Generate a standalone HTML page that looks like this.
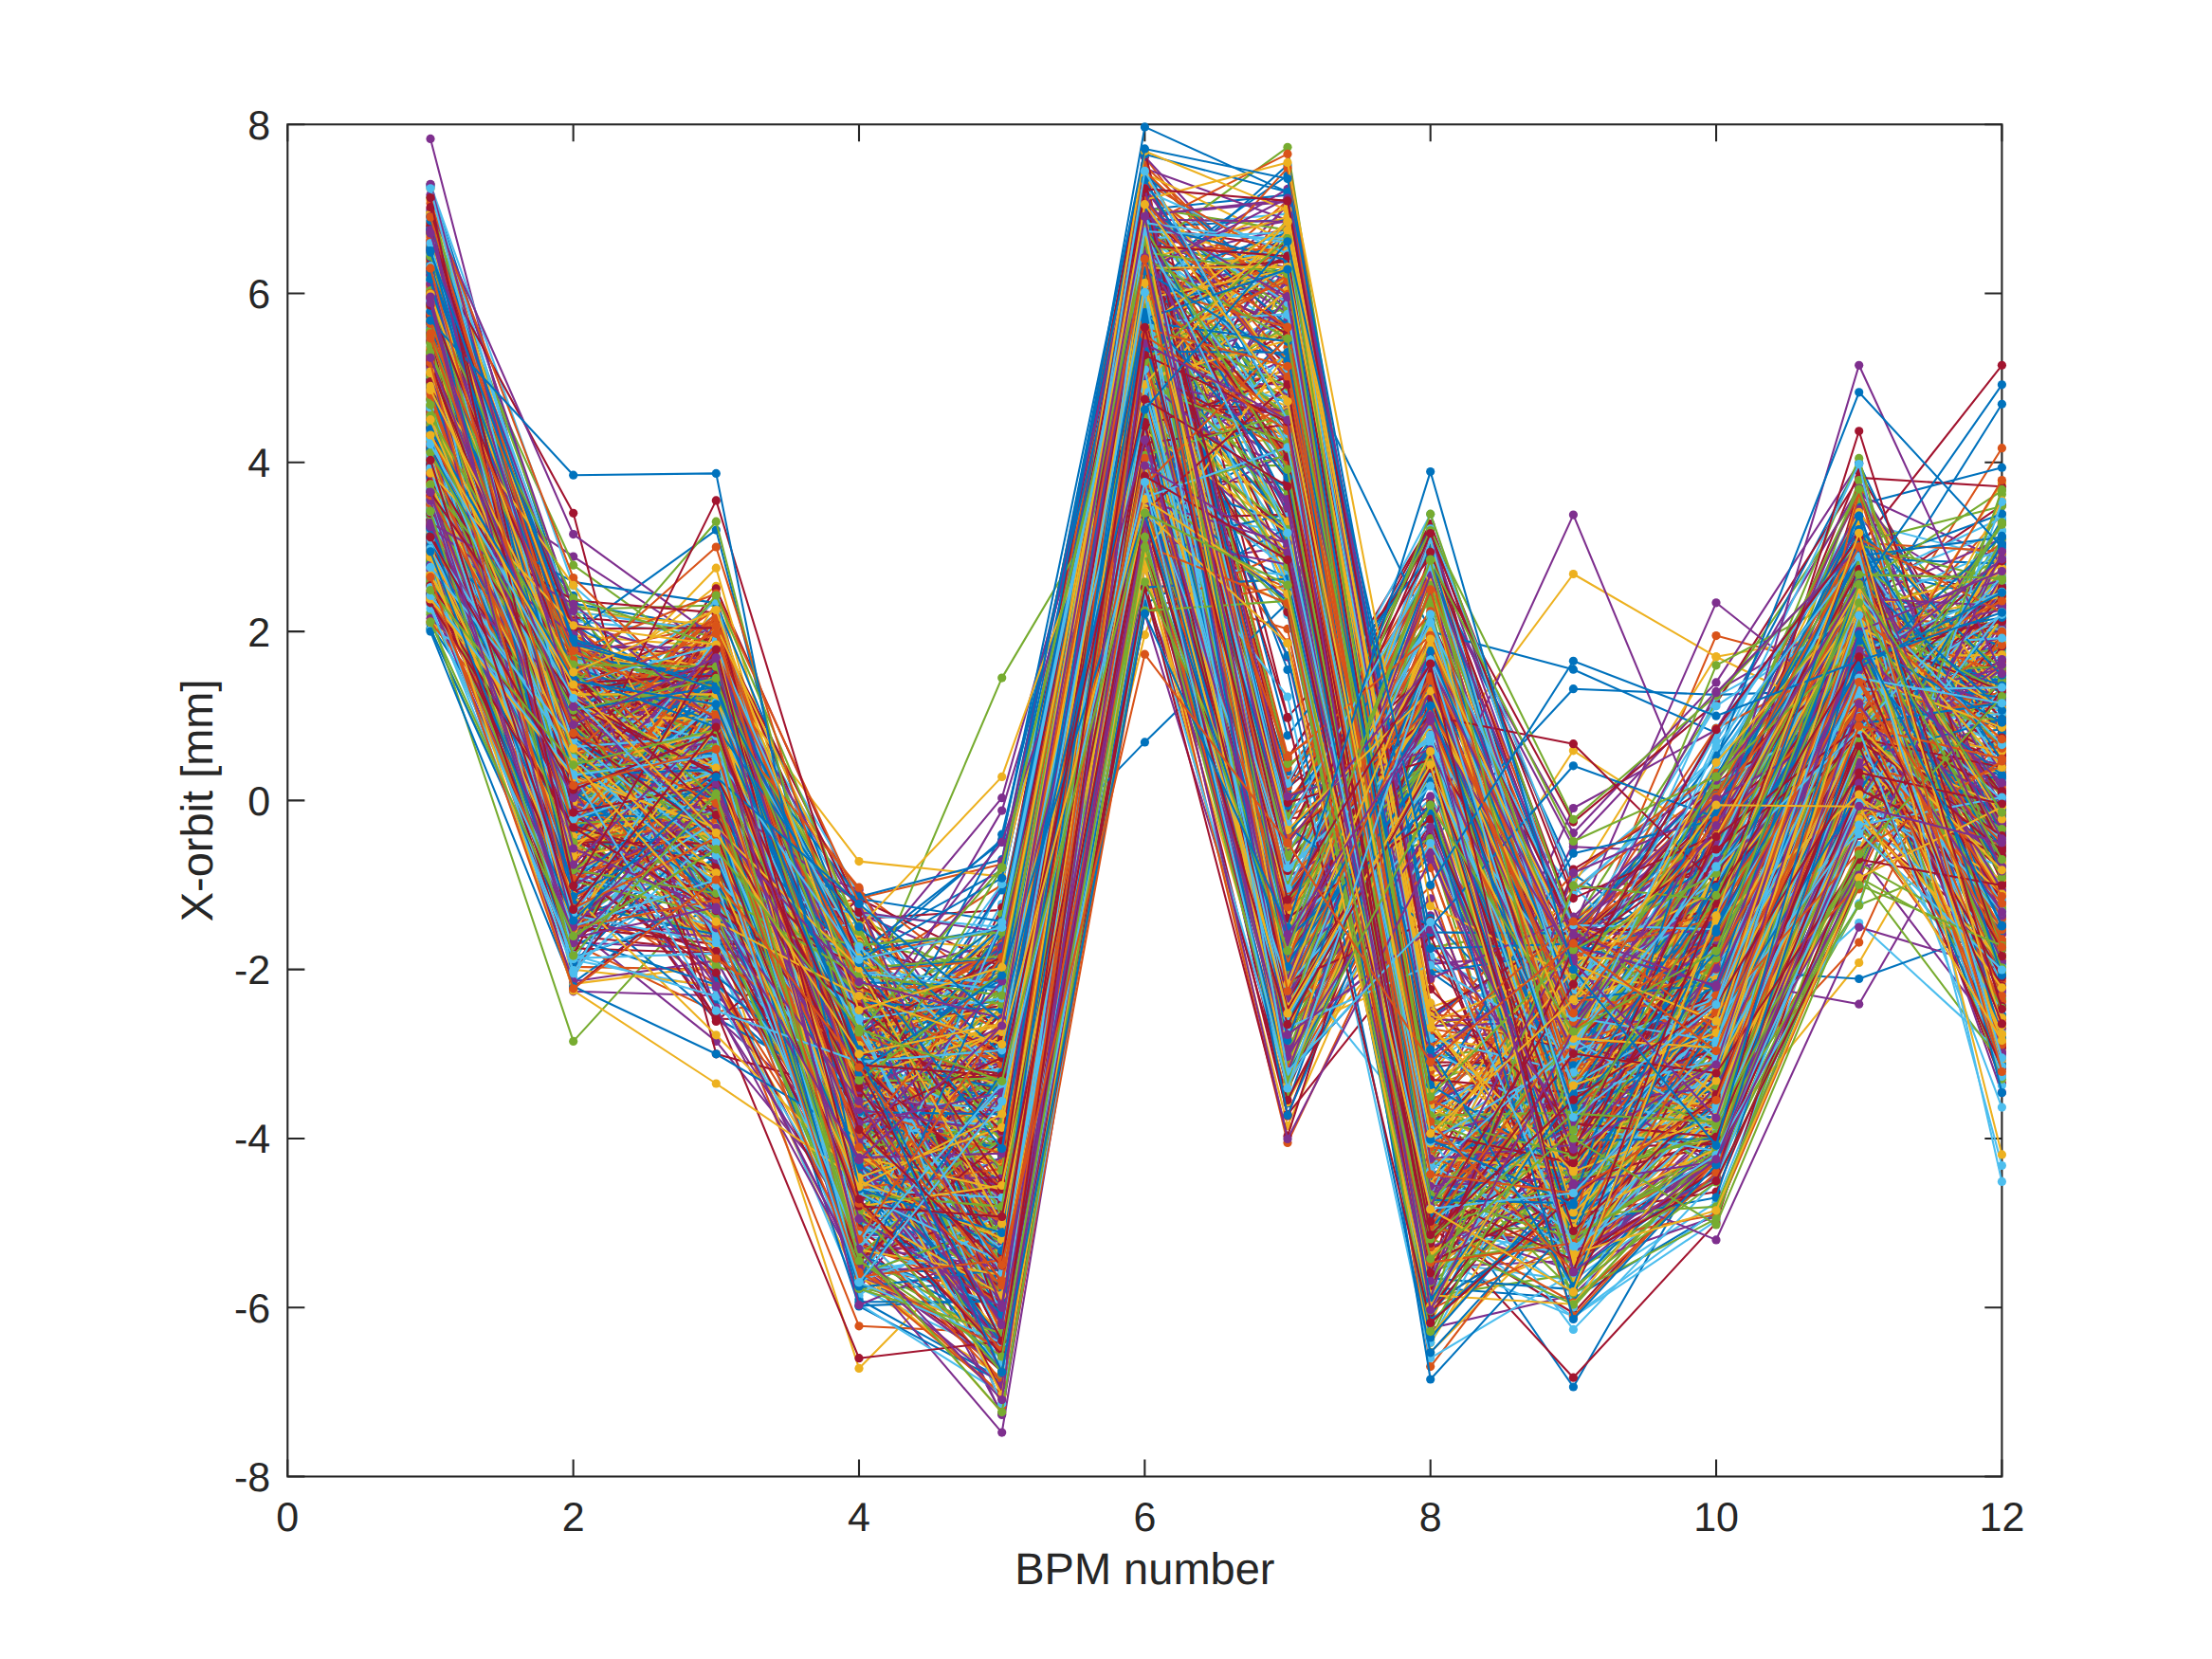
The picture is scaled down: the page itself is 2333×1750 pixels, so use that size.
<!DOCTYPE html><html><head><meta charset="utf-8"><style>html,body{margin:0;padding:0;background:#fff;overflow:hidden}svg{display:block}text{font-family:"Liberation Sans",Arial,Helvetica,sans-serif;fill:#262626;-webkit-font-smoothing:antialiased;text-rendering:geometricPrecision}.c0{stroke:#0072BD;marker-start:url(#m0);marker-mid:url(#m0);marker-end:url(#m0)}.c1{stroke:#D95319;marker-start:url(#m1);marker-mid:url(#m1);marker-end:url(#m1)}.c2{stroke:#EDB120;marker-start:url(#m2);marker-mid:url(#m2);marker-end:url(#m2)}.c3{stroke:#7E2F8E;marker-start:url(#m3);marker-mid:url(#m3);marker-end:url(#m3)}.c4{stroke:#77AC30;marker-start:url(#m4);marker-mid:url(#m4);marker-end:url(#m4)}.c5{stroke:#4DBEEE;marker-start:url(#m5);marker-mid:url(#m5);marker-end:url(#m5)}.c6{stroke:#A2142F;marker-start:url(#m6);marker-mid:url(#m6);marker-end:url(#m6)}polyline{fill:none;stroke-width:2.08;stroke-linejoin:round}</style></head><body><svg width="2333" height="1750" viewBox="0 0 2333 1750"><defs><marker id="m0" markerUnits="userSpaceOnUse" markerWidth="12" markerHeight="12" refX="6" refY="6" overflow="visible"><circle cx="6" cy="6" r="4.60" fill="#0072BD"/></marker><marker id="m1" markerUnits="userSpaceOnUse" markerWidth="12" markerHeight="12" refX="6" refY="6" overflow="visible"><circle cx="6" cy="6" r="4.60" fill="#D95319"/></marker><marker id="m2" markerUnits="userSpaceOnUse" markerWidth="12" markerHeight="12" refX="6" refY="6" overflow="visible"><circle cx="6" cy="6" r="4.60" fill="#EDB120"/></marker><marker id="m3" markerUnits="userSpaceOnUse" markerWidth="12" markerHeight="12" refX="6" refY="6" overflow="visible"><circle cx="6" cy="6" r="4.60" fill="#7E2F8E"/></marker><marker id="m4" markerUnits="userSpaceOnUse" markerWidth="12" markerHeight="12" refX="6" refY="6" overflow="visible"><circle cx="6" cy="6" r="4.60" fill="#77AC30"/></marker><marker id="m5" markerUnits="userSpaceOnUse" markerWidth="12" markerHeight="12" refX="6" refY="6" overflow="visible"><circle cx="6" cy="6" r="4.60" fill="#4DBEEE"/></marker><marker id="m6" markerUnits="userSpaceOnUse" markerWidth="12" markerHeight="12" refX="6" refY="6" overflow="visible"><circle cx="6" cy="6" r="4.60" fill="#A2142F"/></marker></defs><rect width="2333" height="1750" fill="#fff"/><g stroke="#262626" stroke-width="2.08" fill="none"><rect x="303.30" y="131.25" width="1808.10" height="1426.25"/><path d="M303.30 1557.50v-18.08M303.30 131.25v18.08M604.65 1557.50v-18.08M604.65 131.25v18.08M906.00 1557.50v-18.08M906.00 131.25v18.08M1207.35 1557.50v-18.08M1207.35 131.25v18.08M1508.70 1557.50v-18.08M1508.70 131.25v18.08M1810.05 1557.50v-18.08M1810.05 131.25v18.08M2111.40 1557.50v-18.08M2111.40 131.25v18.08M303.30 1557.50h18.08M2111.40 1557.50h-18.08M303.30 1379.22h18.08M2111.40 1379.22h-18.08M303.30 1200.94h18.08M2111.40 1200.94h-18.08M303.30 1022.66h18.08M2111.40 1022.66h-18.08M303.30 844.38h18.08M2111.40 844.38h-18.08M303.30 666.09h18.08M2111.40 666.09h-18.08M303.30 487.81h18.08M2111.40 487.81h-18.08M303.30 309.53h18.08M2111.40 309.53h-18.08M303.30 131.25h18.08M2111.40 131.25h-18.08"/></g><clipPath id="ax"><rect x="297.30" y="125.25" width="1820.10" height="1438.25"/></clipPath><g clip-path="url(#ax)"><polyline class="c0" points="454.0,307.6 604.7,749.3 755.3,954.1 906.0,1066.6 1056.7,1104.2 1207.4,367.0 1358.0,323.8 1508.7,1164.4 1659.4,1093.2 1810.0,994.4 1960.7,666.1 2111.4,426.3"/><polyline class="c1" points="454.0,498.0 604.7,764.6 755.3,793.9 906.0,1199.7 1056.7,1359.3 1207.4,451.6 1358.0,1048.7 1508.7,785.5 1659.4,1052.3 1810.0,850.2 1960.7,866.8 2111.4,1079.2"/><polyline class="c2" points="454.0,489.6 604.7,807.8 755.3,788.4 906.0,957.2 1056.7,1294.5 1207.4,435.7 1358.0,231.9 1508.7,1062.5 1659.4,1010.9 1810.0,1001.7 1960.7,848.2 2111.4,737.1"/><polyline class="c3" points="454.0,585.9 604.7,978.1 755.3,1098.4 906.0,1284.3 1056.7,1288.8 1207.4,375.0 1358.0,1010.7 1508.7,788.4 1659.4,1128.6 1810.0,913.1 1960.7,637.2 2111.4,999.2"/><polyline class="c4" points="454.0,500.7 604.7,735.8 755.3,913.7 906.0,1061.6 1056.7,1176.4 1207.4,492.8 1358.0,1089.8 1508.7,776.8 1659.4,1155.5 1810.0,1145.8 1960.7,863.2 2111.4,725.5"/><polyline class="c5" points="454.0,388.9 604.7,723.5 755.3,983.2 906.0,1149.1 1056.7,1011.9 1207.4,296.7 1358.0,477.3 1508.7,1216.1 1659.4,1115.7 1810.0,902.8 1960.7,690.5 2111.4,1073.4"/><polyline class="c6" points="454.0,492.9 604.7,744.6 755.3,768.5 906.0,1331.7 1056.7,1439.9 1207.4,377.5 1358.0,954.9 1508.7,774.0 1659.4,1184.3 1810.0,1003.6 1960.7,663.2 2111.4,678.4"/><polyline class="c0" points="454.0,440.2 604.7,852.4 755.3,711.7 906.0,1361.4 1056.7,1351.5 1207.4,415.1 1358.0,607.1 1508.7,1320.8 1659.4,1271.9 1810.0,1012.9 1960.7,718.9 2111.4,695.8"/><polyline class="c1" points="454.0,366.9 604.7,904.9 755.3,1017.2 906.0,990.6 1056.7,1152.4 1207.4,411.2 1358.0,396.4 1508.7,1255.2 1659.4,1053.8 1810.0,967.4 1960.7,685.7 2111.4,961.4"/><polyline class="c2" points="454.0,567.8 604.7,776.7 755.3,661.8 906.0,1318.4 1056.7,1490.0 1207.4,505.6 1358.0,855.7 1508.7,754.3 1659.4,1300.5 1810.0,1066.3 1960.7,805.6 2111.4,879.8"/><polyline class="c3" points="454.0,345.9 604.7,846.5 755.3,794.6 906.0,1185.4 1056.7,1363.1 1207.4,463.3 1358.0,1124.4 1508.7,801.4 1659.4,1316.8 1810.0,1226.8 1960.7,698.2 2111.4,827.9"/><polyline class="c4" points="454.0,348.7 604.7,849.1 755.3,855.6 906.0,1116.2 1056.7,1148.9 1207.4,466.6 1358.0,333.8 1508.7,1252.3 1659.4,1296.0 1810.0,1208.8 1960.7,844.0 2111.4,559.6"/><polyline class="c5" points="454.0,400.5 604.7,1019.8 755.3,902.2 906.0,1062.8 1056.7,1214.7 1207.4,431.1 1358.0,1018.8 1508.7,678.3 1659.4,1040.5 1810.0,768.0 1960.7,571.3 2111.4,982.7"/><polyline class="c6" points="454.0,436.7 604.7,807.1 755.3,817.6 906.0,1143.2 1056.7,1435.4 1207.4,378.3 1358.0,1064.7 1508.7,890.0 1659.4,1193.7 1810.0,902.2 1960.7,615.2 2111.4,814.8"/><polyline class="c0" points="454.0,196.4 604.7,657.3 755.3,875.9 906.0,1265.4 1056.7,1248.9 1207.4,549.2 1358.0,467.8 1508.7,1306.6 1659.4,1025.8 1810.0,841.4 1960.7,863.4 2111.4,751.9"/><polyline class="c1" points="454.0,275.5 604.7,757.0 755.3,735.9 906.0,1285.3 1056.7,985.2 1207.4,165.5 1358.0,366.2 1508.7,1188.8 1659.4,1022.7 1810.0,670.6 1960.7,710.7 2111.4,542.6"/><polyline class="c2" points="454.0,471.1 604.7,769.0 755.3,875.7 906.0,1201.3 1056.7,1327.0 1207.4,422.8 1358.0,586.8 1508.7,1361.1 1659.4,1231.3 1810.0,1120.9 1960.7,754.7 2111.4,856.2"/><polyline class="c3" points="454.0,475.1 604.7,846.5 755.3,902.9 906.0,1237.1 1056.7,1423.9 1207.4,404.5 1358.0,1117.8 1508.7,881.0 1659.4,1216.1 1810.0,1030.8 1960.7,751.3 2111.4,1115.4"/><polyline class="c4" points="454.0,385.3 604.7,970.4 755.3,782.6 906.0,1245.0 1056.7,1414.3 1207.4,445.4 1358.0,1061.0 1508.7,746.8 1659.4,1323.4 1810.0,945.6 1960.7,730.1 2111.4,1072.1"/><polyline class="c5" points="454.0,479.8 604.7,791.8 755.3,848.9 906.0,1176.0 1056.7,1180.4 1207.4,430.4 1358.0,337.3 1508.7,1244.7 1659.4,1271.3 1810.0,1102.3 1960.7,709.7 2111.4,859.8"/><polyline class="c6" points="454.0,334.3 604.7,987.2 755.3,1003.1 906.0,1179.3 1056.7,1419.4 1207.4,458.4 1358.0,1056.3 1508.7,678.4 1659.4,1212.5 1810.0,1140.2 1960.7,739.9 2111.4,1142.6"/><polyline class="c0" points="454.0,526.9 604.7,930.9 755.3,757.4 906.0,1164.1 1056.7,1446.0 1207.4,416.3 1358.0,311.6 1508.7,1245.5 1659.4,1463.0 1810.0,1200.9 1960.7,782.2 2111.4,712.6"/><polyline class="c1" points="454.0,523.5 604.7,989.6 755.3,910.9 906.0,1280.2 1056.7,1103.3 1207.4,287.1 1358.0,275.3 1508.7,1146.5 1659.4,1091.6 1810.0,1088.3 1960.7,682.8 2111.4,572.7"/><polyline class="c2" points="454.0,513.0 604.7,858.9 755.3,886.4 906.0,1256.5 1056.7,1236.2 1207.4,399.6 1358.0,255.9 1508.7,1136.7 1659.4,1081.8 1810.0,872.1 1960.7,673.7 2111.4,601.7"/><polyline class="c3" points="454.0,541.5 604.7,889.2 755.3,857.3 906.0,1322.6 1056.7,1301.1 1207.4,568.2 1358.0,321.2 1508.7,1199.5 1659.4,1227.7 1810.0,1179.2 1960.7,824.1 2111.4,815.6"/><polyline class="c4" points="454.0,555.2 604.7,873.9 755.3,895.0 906.0,1056.7 1056.7,995.3 1207.4,257.3 1358.0,912.5 1508.7,819.7 1659.4,1147.1 1810.0,1038.2 1960.7,675.6 2111.4,587.5"/><polyline class="c5" points="454.0,385.0 604.7,939.1 755.3,790.3 906.0,1312.6 1056.7,1363.8 1207.4,400.7 1358.0,332.8 1508.7,1193.7 1659.4,1243.2 1810.0,1153.2 1960.7,696.2 2111.4,818.7"/><polyline class="c6" points="454.0,304.8 604.7,739.9 755.3,696.4 906.0,1194.5 1056.7,1093.2 1207.4,427.8 1358.0,986.5 1508.7,775.7 1659.4,1109.8 1810.0,884.8 1960.7,718.0 2111.4,820.0"/><polyline class="c0" points="454.0,268.1 604.7,699.7 755.3,916.6 906.0,1118.1 1056.7,1072.8 1207.4,173.7 1358.0,471.3 1508.7,1315.0 1659.4,1016.4 1810.0,1102.7 1960.7,853.7 2111.4,678.8"/><polyline class="c1" points="454.0,522.7 604.7,778.0 755.3,789.7 906.0,993.2 1056.7,1136.9 1207.4,230.7 1358.0,1013.4 1508.7,759.7 1659.4,1184.1 1810.0,919.8 1960.7,614.2 2111.4,994.1"/><polyline class="c2" points="454.0,314.2 604.7,801.7 755.3,842.8 906.0,1192.3 1056.7,1444.8 1207.4,468.6 1358.0,1035.4 1508.7,841.9 1659.4,1147.5 1810.0,1181.4 1960.7,839.7 2111.4,861.5"/><polyline class="c3" points="454.0,146.4 604.7,725.8 755.3,710.7 906.0,1107.7 1056.7,1004.3 1207.4,376.0 1358.0,693.1 1508.7,1336.7 1659.4,1329.7 1810.0,1186.9 1960.7,878.4 2111.4,599.0"/><polyline class="c4" points="454.0,529.8 604.7,740.4 755.3,775.0 906.0,1178.7 1056.7,1214.4 1207.4,378.5 1358.0,324.2 1508.7,1168.8 1659.4,1179.9 1810.0,936.4 1960.7,727.1 2111.4,755.1"/><polyline class="c5" points="454.0,247.0 604.7,822.6 755.3,658.3 906.0,1122.9 1056.7,1234.3 1207.4,443.7 1358.0,993.0 1508.7,726.7 1659.4,1267.9 1810.0,1212.5 1960.7,857.9 2111.4,893.0"/><polyline class="c6" points="454.0,253.6 604.7,683.3 755.3,725.7 906.0,1209.1 1056.7,1228.5 1207.4,261.5 1358.0,799.7 1508.7,569.6 1659.4,1036.3 1810.0,956.7 1960.7,725.0 2111.4,960.6"/><polyline class="c0" points="454.0,395.0 604.7,650.1 755.3,736.4 906.0,1000.7 1056.7,918.2 1207.4,221.2 1358.0,205.6 1508.7,1024.9 1659.4,1132.0 1810.0,991.9 1960.7,696.1 2111.4,865.5"/><polyline class="c1" points="454.0,402.9 604.7,761.0 755.3,897.3 906.0,1175.0 1056.7,1430.9 1207.4,441.8 1358.0,988.6 1508.7,713.3 1659.4,1106.7 1810.0,940.2 1960.7,733.3 2111.4,853.2"/><polyline class="c2" points="454.0,286.4 604.7,737.1 755.3,618.3 906.0,1143.4 1056.7,1041.0 1207.4,203.7 1358.0,308.6 1508.7,1255.0 1659.4,1309.4 1810.0,1118.1 1960.7,660.7 2111.4,779.7"/><polyline class="c3" points="454.0,483.4 604.7,765.2 755.3,1037.9 906.0,1159.4 1056.7,1211.3 1207.4,521.2 1358.0,238.3 1508.7,1234.6 1659.4,1293.0 1810.0,1223.9 1960.7,726.0 2111.4,981.5"/><polyline class="c4" points="454.0,338.5 604.7,764.9 755.3,961.1 906.0,1251.4 1056.7,991.7 1207.4,403.1 1358.0,1095.4 1508.7,798.8 1659.4,1113.5 1810.0,981.7 1960.7,628.1 2111.4,1040.1"/><polyline class="c5" points="454.0,341.0 604.7,977.1 755.3,703.7 906.0,949.6 1056.7,1222.4 1207.4,349.0 1358.0,248.2 1508.7,1256.2 1659.4,1365.3 1810.0,1268.2 1960.7,896.5 2111.4,853.4"/><polyline class="c6" points="454.0,383.9 604.7,954.8 755.3,799.3 906.0,969.3 1056.7,959.9 1207.4,193.8 1358.0,885.0 1508.7,598.8 1659.4,1147.7 1810.0,947.1 1960.7,684.6 2111.4,633.7"/><polyline class="c0" points="454.0,573.4 604.7,843.7 755.3,694.3 906.0,1288.0 1056.7,1360.9 1207.4,518.8 1358.0,1163.9 1508.7,748.4 1659.4,1023.5 1810.0,854.1 1960.7,614.8 2111.4,859.0"/><polyline class="c1" points="454.0,531.4 604.7,741.7 755.3,683.2 906.0,1034.7 1056.7,1254.1 1207.4,360.4 1358.0,418.0 1508.7,1094.0 1659.4,1085.6 1810.0,1195.2 1960.7,763.6 2111.4,551.5"/><polyline class="c2" points="454.0,300.4 604.7,780.0 755.3,1026.1 906.0,1354.8 1056.7,1452.8 1207.4,516.6 1358.0,1049.5 1508.7,693.6 1659.4,1161.4 1810.0,928.9 1960.7,694.4 2111.4,955.8"/><polyline class="c3" points="454.0,554.6 604.7,1045.8 755.3,1050.2 906.0,1178.9 1056.7,1492.4 1207.4,599.2 1358.0,576.7 1508.7,1401.2 1659.4,1366.1 1810.0,1222.4 1960.7,864.1 2111.4,586.1"/><polyline class="c4" points="454.0,609.5 604.7,972.1 755.3,791.0 906.0,967.6 1056.7,1051.7 1207.4,255.2 1358.0,811.4 1508.7,633.6 1659.4,1110.6 1810.0,1166.3 1960.7,828.4 2111.4,532.2"/><polyline class="c5" points="454.0,423.7 604.7,976.3 755.3,861.4 906.0,1059.6 1056.7,1214.7 1207.4,271.0 1358.0,274.9 1508.7,1115.7 1659.4,928.2 1810.0,798.3 1960.7,628.2 2111.4,976.1"/><polyline class="c6" points="454.0,353.7 604.7,838.8 755.3,620.9 906.0,959.0 1056.7,1143.3 1207.4,360.9 1358.0,863.3 1508.7,853.4 1659.4,1283.2 1810.0,1010.1 1960.7,785.2 2111.4,880.8"/><polyline class="c0" points="454.0,329.1 604.7,776.2 755.3,757.1 906.0,1088.5 1056.7,1178.2 1207.4,232.8 1358.0,420.1 1508.7,1358.1 1659.4,1369.7 1810.0,1279.6 1960.7,912.9 2111.4,594.8"/><polyline class="c1" points="454.0,513.8 604.7,964.0 755.3,938.4 906.0,1226.0 1056.7,1336.8 1207.4,563.6 1358.0,1132.3 1508.7,712.8 1659.4,1341.7 1810.0,1191.7 1960.7,937.8 2111.4,695.3"/><polyline class="c2" points="454.0,633.7 604.7,882.4 755.3,663.0 906.0,1132.4 1056.7,1014.5 1207.4,274.5 1358.0,625.0 1508.7,1324.6 1659.4,1241.8 1810.0,1222.8 1960.7,753.8 2111.4,746.7"/><polyline class="c3" points="454.0,301.8 604.7,887.0 755.3,767.4 906.0,1274.4 1056.7,1174.7 1207.4,472.0 1358.0,927.3 1508.7,674.9 1659.4,977.8 1810.0,1003.5 1960.7,746.4 2111.4,659.3"/><polyline class="c4" points="454.0,571.1 604.7,738.3 755.3,738.0 906.0,1035.5 1056.7,1215.7 1207.4,288.3 1358.0,1038.1 1508.7,893.9 1659.4,1374.3 1810.0,1237.4 1960.7,871.4 2111.4,876.0"/><polyline class="c5" points="454.0,630.8 604.7,954.7 755.3,832.8 906.0,1236.4 1056.7,1385.2 1207.4,630.9 1358.0,990.5 1508.7,842.6 1659.4,1046.8 1810.0,804.0 1960.7,583.1 2111.4,972.3"/><polyline class="c6" points="454.0,579.4 604.7,830.1 755.3,821.6 906.0,1100.9 1056.7,1031.7 1207.4,180.0 1358.0,903.1 1508.7,600.8 1659.4,1130.7 1810.0,1121.8 1960.7,815.3 2111.4,967.6"/><polyline class="c0" points="454.0,295.2 604.7,668.5 755.3,756.4 906.0,1124.7 1056.7,1300.1 1207.4,531.6 1358.0,414.6 1508.7,1225.2 1659.4,1293.7 1810.0,1061.6 1960.7,871.5 2111.4,786.4"/><polyline class="c1" points="454.0,504.5 604.7,963.3 755.3,759.0 906.0,1091.7 1056.7,999.1 1207.4,250.3 1358.0,1063.4 1508.7,801.6 1659.4,1321.6 1810.0,1099.8 1960.7,710.7 2111.4,472.7"/><polyline class="c2" points="454.0,484.0 604.7,809.1 755.3,990.9 906.0,1165.4 1056.7,1186.6 1207.4,411.0 1358.0,1066.4 1508.7,754.6 1659.4,1258.7 1810.0,1188.8 1960.7,727.5 2111.4,769.6"/><polyline class="c3" points="454.0,565.0 604.7,1021.2 755.3,798.1 906.0,1047.0 1056.7,1298.2 1207.4,557.6 1358.0,1104.5 1508.7,965.8 1659.4,1335.6 1810.0,1283.3 1960.7,900.6 2111.4,1097.7"/><polyline class="c4" points="454.0,246.6 604.7,797.4 755.3,728.7 906.0,1237.6 1056.7,1391.7 1207.4,593.6 1358.0,1040.5 1508.7,764.8 1659.4,1009.1 1810.0,1083.1 1960.7,763.3 2111.4,787.6"/><polyline class="c5" points="454.0,228.7 604.7,834.2 755.3,970.4 906.0,1350.7 1056.7,1104.7 1207.4,318.8 1358.0,473.2 1508.7,1284.0 1659.4,1389.2 1810.0,1287.6 1960.7,840.7 2111.4,711.2"/><polyline class="c6" points="454.0,569.8 604.7,792.9 755.3,654.1 906.0,1296.7 1056.7,1285.2 1207.4,443.9 1358.0,389.7 1508.7,1239.8 1659.4,1184.6 1810.0,1157.8 1960.7,781.7 2111.4,918.5"/><polyline class="c0" points="454.0,443.8 604.7,752.0 755.3,868.5 906.0,1217.1 1056.7,1068.6 1207.4,320.6 1358.0,1017.3 1508.7,668.6 1659.4,1080.3 1810.0,984.2 1960.7,680.2 2111.4,1056.2"/><polyline class="c1" points="454.0,261.1 604.7,713.7 755.3,975.4 906.0,1150.6 1056.7,1366.2 1207.4,458.5 1358.0,1044.8 1508.7,886.0 1659.4,1116.6 1810.0,1027.9 1960.7,650.6 2111.4,727.9"/><polyline class="c2" points="454.0,271.5 604.7,953.7 755.3,978.1 906.0,1443.4 1056.7,1290.1 1207.4,361.9 1358.0,291.0 1508.7,1071.3 1659.4,1151.3 1810.0,1001.7 1960.7,696.8 2111.4,618.3"/><polyline class="c3" points="454.0,485.1 604.7,587.1 755.3,685.0 906.0,1200.6 1056.7,1136.9 1207.4,247.8 1358.0,282.2 1508.7,1222.8 1659.4,983.6 1810.0,906.9 1960.7,548.4 2111.4,640.9"/><polyline class="c4" points="454.0,564.6 604.7,971.1 755.3,847.4 906.0,1164.2 1056.7,1175.0 1207.4,437.9 1358.0,1006.3 1508.7,612.5 1659.4,1207.4 1810.0,1094.7 1960.7,725.3 2111.4,837.2"/><polyline class="c5" points="454.0,230.3 604.7,654.9 755.3,670.3 906.0,1241.4 1056.7,932.7 1207.4,214.5 1358.0,967.2 1508.7,752.9 1659.4,1222.8 1810.0,837.4 1960.7,608.7 2111.4,840.5"/><polyline class="c6" points="454.0,320.5 604.7,917.3 755.3,991.7 906.0,1108.3 1056.7,1338.6 1207.4,311.6 1358.0,257.8 1508.7,1290.1 1659.4,1453.2 1810.0,1290.1 1960.7,823.4 2111.4,630.9"/><polyline class="c0" points="454.0,227.9 604.7,788.8 755.3,956.6 906.0,1196.1 1056.7,1103.8 1207.4,473.6 1358.0,1058.3 1508.7,903.0 1659.4,1144.8 1810.0,1015.7 1960.7,748.7 2111.4,633.3"/><polyline class="c1" points="454.0,488.1 604.7,662.6 755.3,763.9 906.0,1004.0 1056.7,1117.3 1207.4,397.7 1358.0,450.7 1508.7,1260.8 1659.4,1221.4 1810.0,1169.6 1960.7,852.6 2111.4,1042.8"/><polyline class="c2" points="454.0,368.5 604.7,722.4 755.3,998.5 906.0,1088.9 1056.7,1190.4 1207.4,521.8 1358.0,1070.7 1508.7,695.3 1659.4,1072.6 1810.0,894.9 1960.7,579.8 2111.4,704.7"/><polyline class="c3" points="454.0,634.2 604.7,979.1 755.3,839.1 906.0,1227.3 1056.7,1132.9 1207.4,243.2 1358.0,329.7 1508.7,1058.9 1659.4,1219.5 1810.0,972.0 1960.7,733.5 2111.4,961.2"/><polyline class="c4" points="454.0,662.8 604.7,988.6 755.3,785.2 906.0,1301.6 1056.7,1279.0 1207.4,490.8 1358.0,491.1 1508.7,1314.0 1659.4,1321.6 1810.0,1079.6 1960.7,849.1 2111.4,957.6"/><polyline class="c5" points="454.0,291.6 604.7,711.8 755.3,743.2 906.0,951.7 1056.7,1303.8 1207.4,490.1 1358.0,593.1 1508.7,1268.7 1659.4,1131.9 1810.0,888.7 1960.7,576.1 2111.4,912.5"/><polyline class="c6" points="454.0,565.1 604.7,651.2 755.3,663.0 906.0,1077.1 1056.7,1240.9 1207.4,391.9 1358.0,461.0 1508.7,1295.5 1659.4,1385.0 1810.0,1222.1 1960.7,854.7 2111.4,717.0"/><polyline class="c0" points="454.0,305.4 604.7,789.0 755.3,720.7 906.0,1370.5 1056.7,1454.8 1207.4,294.2 1358.0,538.9 1508.7,1328.2 1659.4,1100.0 1810.0,1105.3 1960.7,687.8 2111.4,1070.2"/><polyline class="c1" points="454.0,595.0 604.7,1019.9 755.3,1022.7 906.0,1398.8 1056.7,1406.0 1207.4,470.6 1358.0,209.9 1508.7,1084.9 1659.4,1111.6 1810.0,959.2 1960.7,705.8 2111.4,939.4"/><polyline class="c2" points="454.0,617.8 604.7,774.3 755.3,730.3 906.0,1040.7 1056.7,1264.9 1207.4,473.8 1358.0,239.2 1508.7,1135.7 1659.4,933.5 1810.0,692.8 1960.7,666.1 2111.4,1089.8"/><polyline class="c3" points="454.0,492.9 604.7,871.3 755.3,1073.3 906.0,1209.1 1056.7,1491.5 1207.4,545.0 1358.0,1047.5 1508.7,701.9 1659.4,1261.6 1810.0,996.2 1960.7,776.9 2111.4,1025.0"/><polyline class="c4" points="454.0,547.7 604.7,830.6 755.3,730.6 906.0,1357.0 1056.7,1399.5 1207.4,336.5 1358.0,357.2 1508.7,1172.9 1659.4,1318.9 1810.0,1041.7 1960.7,856.1 2111.4,730.2"/><polyline class="c5" points="454.0,222.7 604.7,698.2 755.3,683.8 906.0,1224.9 1056.7,1324.1 1207.4,268.4 1358.0,348.9 1508.7,1222.2 1659.4,1321.6 1810.0,1128.7 1960.7,706.3 2111.4,969.9"/><polyline class="c6" points="454.0,241.3 604.7,740.5 755.3,823.4 906.0,1299.9 1056.7,1374.4 1207.4,460.6 1358.0,934.6 1508.7,759.7 1659.4,990.7 1810.0,1033.1 1960.7,748.6 2111.4,658.0"/><polyline class="c0" points="454.0,544.3 604.7,864.5 755.3,781.1 906.0,1337.3 1056.7,1345.6 1207.4,429.0 1358.0,1071.3 1508.7,701.0 1659.4,1192.9 1810.0,1102.0 1960.7,746.4 2111.4,677.2"/><polyline class="c1" points="454.0,244.8 604.7,868.8 755.3,695.0 906.0,1255.6 1056.7,1287.3 1207.4,340.6 1358.0,211.7 1508.7,1019.8 1659.4,1128.2 1810.0,863.4 1960.7,662.5 2111.4,985.7"/><polyline class="c2" points="454.0,410.7 604.7,708.7 755.3,841.4 906.0,1120.1 1056.7,1094.7 1207.4,270.7 1358.0,353.8 1508.7,1272.3 1659.4,1053.4 1810.0,956.0 1960.7,639.4 2111.4,909.5"/><polyline class="c3" points="454.0,568.1 604.7,846.8 755.3,741.3 906.0,1145.4 1056.7,1064.8 1207.4,258.8 1358.0,233.1 1508.7,1117.7 1659.4,1318.8 1810.0,1098.7 1960.7,762.3 2111.4,985.2"/><polyline class="c4" points="454.0,384.5 604.7,755.7 755.3,834.9 906.0,1142.0 1056.7,1164.6 1207.4,202.5 1358.0,956.3 1508.7,713.6 1659.4,1098.6 1810.0,1188.7 1960.7,913.5 2111.4,521.6"/><polyline class="c5" points="454.0,340.2 604.7,894.0 755.3,941.8 906.0,1358.5 1056.7,1431.2 1207.4,378.8 1358.0,1124.7 1508.7,747.3 1659.4,1128.4 1810.0,804.4 1960.7,649.5 2111.4,625.9"/><polyline class="c6" points="454.0,469.7 604.7,998.4 755.3,718.8 906.0,1311.8 1056.7,1360.2 1207.4,314.9 1358.0,886.5 1508.7,760.3 1659.4,1177.2 1810.0,1081.8 1960.7,635.4 2111.4,533.2"/><polyline class="c0" points="454.0,296.0 604.7,1036.7 755.3,927.4 906.0,1304.6 1056.7,976.7 1207.4,237.4 1358.0,1004.4 1508.7,784.9 1659.4,1252.3 1810.0,1079.9 1960.7,752.7 2111.4,687.9"/><polyline class="c1" points="454.0,323.6 604.7,937.7 755.3,1038.3 906.0,1279.2 1056.7,1092.6 1207.4,337.3 1358.0,478.1 1508.7,1268.2 1659.4,1331.0 1810.0,1240.9 1960.7,789.1 2111.4,844.0"/><polyline class="c2" points="454.0,376.5 604.7,874.8 755.3,920.8 906.0,1231.0 1056.7,1144.4 1207.4,315.1 1358.0,1088.6 1508.7,1022.7 1659.4,791.8 1810.0,888.9 1960.7,716.3 2111.4,749.5"/><polyline class="c3" points="454.0,307.1 604.7,737.2 755.3,658.4 906.0,1084.4 1056.7,1276.3 1207.4,445.7 1358.0,378.2 1508.7,1194.0 1659.4,889.5 1810.0,729.4 1960.7,641.1 2111.4,772.3"/><polyline class="c4" points="454.0,613.3 604.7,790.6 755.3,746.1 906.0,1283.4 1056.7,1003.3 1207.4,372.0 1358.0,567.3 1508.7,1270.2 1659.4,1139.2 1810.0,1048.4 1960.7,729.5 2111.4,765.3"/><polyline class="c5" points="454.0,452.3 604.7,1012.5 755.3,1042.9 906.0,1113.4 1056.7,1315.1 1207.4,332.2 1358.0,254.4 1508.7,1167.7 1659.4,1095.7 1810.0,781.9 1960.7,550.5 2111.4,589.6"/><polyline class="c6" points="454.0,316.5 604.7,802.4 755.3,910.9 906.0,1304.0 1056.7,1198.5 1207.4,292.0 1358.0,990.0 1508.7,650.8 1659.4,1156.9 1810.0,903.6 1960.7,658.7 2111.4,840.3"/><polyline class="c0" points="454.0,440.8 604.7,628.4 755.3,900.5 906.0,1151.6 1056.7,1010.2 1207.4,218.8 1358.0,948.2 1508.7,575.7 1659.4,1127.3 1810.0,1164.8 1960.7,730.8 2111.4,1063.7"/><polyline class="c1" points="454.0,300.0 604.7,703.6 755.3,697.6 906.0,1213.0 1056.7,1207.7 1207.4,469.7 1358.0,901.4 1508.7,616.2 1659.4,993.7 1810.0,1147.0 1960.7,700.2 2111.4,592.3"/><polyline class="c2" points="454.0,311.8 604.7,787.7 755.3,847.8 906.0,1095.5 1056.7,1123.9 1207.4,286.7 1358.0,999.3 1508.7,593.7 1659.4,1162.9 1810.0,1047.0 1960.7,773.3 2111.4,625.4"/><polyline class="c3" points="454.0,263.5 604.7,694.6 755.3,940.8 906.0,963.8 1056.7,1028.5 1207.4,285.0 1358.0,968.9 1508.7,752.5 1659.4,1119.9 1810.0,979.0 1960.7,724.8 2111.4,1152.6"/><polyline class="c4" points="454.0,353.5 604.7,740.4 755.3,807.1 906.0,1108.5 1056.7,1023.7 1207.4,322.7 1358.0,239.8 1508.7,1281.9 1659.4,1322.8 1810.0,1220.7 1960.7,954.7 2111.4,893.0"/><polyline class="c5" points="454.0,263.7 604.7,760.1 755.3,647.8 906.0,1113.5 1056.7,1282.2 1207.4,352.8 1358.0,1016.7 1508.7,674.4 1659.4,1271.3 1810.0,995.9 1960.7,741.6 2111.4,658.2"/><polyline class="c6" points="454.0,489.1 604.7,824.2 755.3,719.1 906.0,1299.2 1056.7,1006.1 1207.4,229.9 1358.0,386.7 1508.7,1126.1 1659.4,1105.8 1810.0,865.2 1960.7,497.5 2111.4,764.1"/><polyline class="c0" points="454.0,490.1 604.7,764.5 755.3,765.5 906.0,1260.8 1056.7,1366.1 1207.4,343.3 1358.0,814.0 1508.7,892.2 1659.4,1186.1 1810.0,1081.9 1960.7,532.4 2111.4,493.2"/><polyline class="c1" points="454.0,565.9 604.7,995.5 755.3,1067.4 906.0,1042.3 1056.7,1201.2 1207.4,414.9 1358.0,1055.5 1508.7,898.5 1659.4,1235.8 1810.0,937.3 1960.7,577.7 2111.4,1103.9"/><polyline class="c2" points="454.0,535.8 604.7,1022.7 755.3,1039.6 906.0,1301.1 1056.7,1282.4 1207.4,512.6 1358.0,1162.8 1508.7,875.5 1659.4,1041.7 1810.0,1047.9 1960.7,681.6 2111.4,806.8"/><polyline class="c3" points="454.0,626.8 604.7,759.0 755.3,955.5 906.0,1248.1 1056.7,1273.4 1207.4,165.1 1358.0,328.9 1508.7,1348.3 1659.4,1031.6 1810.0,1056.9 1960.7,749.3 2111.4,803.3"/><polyline class="c4" points="454.0,451.9 604.7,791.6 755.3,763.7 906.0,1053.6 1056.7,1244.5 1207.4,457.2 1358.0,588.6 1508.7,1287.4 1659.4,1182.3 1810.0,989.4 1960.7,652.3 2111.4,584.8"/><polyline class="c5" points="454.0,316.6 604.7,933.0 755.3,990.0 906.0,1220.3 1056.7,1416.0 1207.4,375.3 1358.0,587.0 1508.7,1326.3 1659.4,1388.6 1810.0,1277.0 1960.7,891.6 2111.4,791.5"/><polyline class="c6" points="454.0,408.4 604.7,706.3 755.3,706.3 906.0,1233.5 1056.7,1343.7 1207.4,549.5 1358.0,1041.8 1508.7,621.7 1659.4,1124.1 1810.0,1197.7 1960.7,781.3 2111.4,669.4"/><polyline class="c0" points="454.0,403.8 604.7,636.4 755.3,663.6 906.0,1081.4 1056.7,1115.2 1207.4,222.1 1358.0,439.3 1508.7,888.9 1659.4,726.7 1810.0,732.9 1960.7,727.5 2111.4,1109.9"/><polyline class="c1" points="454.0,304.4 604.7,780.3 755.3,785.0 906.0,987.3 1056.7,1314.3 1207.4,513.3 1358.0,1142.0 1508.7,872.6 1659.4,1334.2 1810.0,1156.7 1960.7,835.5 2111.4,1040.4"/><polyline class="c2" points="454.0,266.2 604.7,780.1 755.3,831.5 906.0,1163.3 1056.7,1232.4 1207.4,274.7 1358.0,916.0 1508.7,749.7 1659.4,1253.1 1810.0,1205.0 1960.7,897.0 2111.4,567.8"/><polyline class="c3" points="454.0,631.5 604.7,981.6 755.3,979.6 906.0,1139.2 1056.7,1352.5 1207.4,351.9 1358.0,969.0 1508.7,607.7 1659.4,878.7 1810.0,719.9 1960.7,488.5 2111.4,1104.4"/><polyline class="c4" points="454.0,387.1 604.7,638.5 755.3,672.6 906.0,1007.3 1056.7,1175.9 1207.4,271.1 1358.0,898.6 1508.7,728.5 1659.4,1067.8 1810.0,851.4 1960.7,652.5 2111.4,659.0"/><polyline class="c5" points="454.0,415.0 604.7,815.0 755.3,853.4 906.0,1242.4 1056.7,1227.0 1207.4,410.5 1358.0,463.2 1508.7,1330.4 1659.4,1350.4 1810.0,1242.0 1960.7,808.8 2111.4,1007.2"/><polyline class="c6" points="454.0,238.3 604.7,664.9 755.3,830.5 906.0,1093.9 1056.7,1298.1 1207.4,228.2 1358.0,393.4 1508.7,1231.0 1659.4,989.3 1810.0,1018.9 1960.7,594.8 2111.4,1012.0"/><polyline class="c0" points="454.0,471.0 604.7,839.7 755.3,806.2 906.0,1173.6 1056.7,1382.2 1207.4,328.7 1358.0,932.2 1508.7,594.8 1659.4,922.2 1810.0,1022.6 1960.7,597.6 2111.4,632.8"/><polyline class="c1" points="454.0,282.7 604.7,656.5 755.3,805.6 906.0,1318.4 1056.7,1347.4 1207.4,185.0 1358.0,862.2 1508.7,779.8 1659.4,1215.9 1810.0,1180.6 1960.7,826.3 2111.4,757.0"/><polyline class="c2" points="454.0,370.2 604.7,670.1 755.3,776.7 906.0,1209.0 1056.7,1052.0 1207.4,434.9 1358.0,1132.1 1508.7,949.4 1659.4,1315.8 1810.0,1100.0 1960.7,756.6 2111.4,703.3"/><polyline class="c3" points="454.0,350.8 604.7,892.5 755.3,875.5 906.0,1019.4 1056.7,1329.5 1207.4,437.8 1358.0,490.1 1508.7,1297.8 1659.4,1311.3 1810.0,1243.1 1960.7,611.2 2111.4,682.2"/><polyline class="c4" points="454.0,434.6 604.7,742.2 755.3,830.7 906.0,1092.5 1056.7,1291.8 1207.4,432.3 1358.0,1047.2 1508.7,800.6 1659.4,1378.9 1810.0,1210.5 1960.7,785.3 2111.4,705.7"/><polyline class="c5" points="454.0,372.6 604.7,778.7 755.3,1007.5 906.0,1366.5 1056.7,1264.4 1207.4,495.5 1358.0,977.6 1508.7,562.8 1659.4,1060.5 1810.0,1057.6 1960.7,728.9 2111.4,692.3"/><polyline class="c6" points="454.0,263.4 604.7,678.1 755.3,693.2 906.0,1218.6 1056.7,1088.2 1207.4,227.6 1358.0,1036.9 1508.7,583.8 1659.4,1054.3 1810.0,927.6 1960.7,716.0 2111.4,741.7"/><polyline class="c0" points="454.0,541.4 604.7,1009.9 755.3,958.8 906.0,1321.3 1056.7,1400.9 1207.4,463.2 1358.0,454.4 1508.7,1158.9 1659.4,1260.3 1810.0,1066.2 1960.7,775.7 2111.4,591.4"/><polyline class="c1" points="454.0,378.7 604.7,658.3 755.3,805.6 906.0,1331.6 1056.7,1445.3 1207.4,618.4 1358.0,663.4 1508.7,1380.1 1659.4,1069.5 1810.0,892.8 1960.7,613.9 2111.4,930.1"/><polyline class="c2" points="454.0,420.2 604.7,799.6 755.3,781.1 906.0,1115.6 1056.7,1217.4 1207.4,565.5 1358.0,637.2 1508.7,1398.6 1659.4,1013.2 1810.0,993.2 1960.7,641.4 2111.4,605.1"/><polyline class="c3" points="454.0,485.3 604.7,867.2 755.3,963.7 906.0,1140.4 1056.7,1021.5 1207.4,229.3 1358.0,867.0 1508.7,607.5 1659.4,893.3 1810.0,899.9 1960.7,648.6 2111.4,710.8"/><polyline class="c4" points="454.0,645.8 604.7,966.5 755.3,892.7 906.0,1295.2 1056.7,1133.0 1207.4,292.4 1358.0,415.7 1508.7,1367.5 1659.4,1343.6 1810.0,1241.1 1960.7,794.7 2111.4,1016.7"/><polyline class="c5" points="454.0,602.3 604.7,942.7 755.3,681.9 906.0,944.0 1056.7,1159.9 1207.4,239.0 1358.0,225.6 1508.7,1008.3 1659.4,1085.9 1810.0,1138.2 1960.7,811.6 2111.4,1086.9"/><polyline class="c6" points="454.0,313.3 604.7,992.0 755.3,890.0 906.0,1136.0 1056.7,1005.0 1207.4,188.9 1358.0,831.3 1508.7,706.0 1659.4,1174.4 1810.0,903.4 1960.7,714.2 2111.4,819.6"/><polyline class="c0" points="454.0,405.5 604.7,970.6 755.3,906.5 906.0,1096.7 1056.7,1221.1 1207.4,239.3 1358.0,231.9 1508.7,1159.9 1659.4,1196.8 1810.0,1076.6 1960.7,843.3 2111.4,705.1"/><polyline class="c1" points="454.0,312.3 604.7,860.0 755.3,942.4 906.0,979.4 1056.7,1276.7 1207.4,450.9 1358.0,1107.4 1508.7,822.2 1659.4,1310.4 1810.0,1140.8 1960.7,833.0 2111.4,852.3"/><polyline class="c2" points="454.0,323.6 604.7,755.2 755.3,599.2 906.0,1121.5 1056.7,1220.6 1207.4,368.8 1358.0,617.2 1508.7,1303.5 1659.4,1201.3 1810.0,861.7 1960.7,586.8 2111.4,1056.1"/><polyline class="c3" points="454.0,271.6 604.7,877.9 755.3,759.6 906.0,1197.2 1056.7,932.9 1207.4,227.3 1358.0,212.7 1508.7,999.1 1659.4,1123.0 1810.0,1057.3 1960.7,595.3 2111.4,854.7"/><polyline class="c4" points="454.0,266.0 604.7,596.2 755.3,703.9 906.0,994.7 1056.7,1160.8 1207.4,215.6 1358.0,333.1 1508.7,1084.7 1659.4,1031.1 1810.0,973.8 1960.7,666.5 2111.4,927.2"/><polyline class="c5" points="454.0,565.3 604.7,856.9 755.3,958.0 906.0,1117.1 1056.7,1102.6 1207.4,251.9 1358.0,393.9 1508.7,1227.9 1659.4,1148.4 1810.0,865.3 1960.7,709.1 2111.4,878.0"/><polyline class="c6" points="454.0,437.2 604.7,897.7 755.3,913.3 906.0,1039.8 1056.7,1263.1 1207.4,263.3 1358.0,801.4 1508.7,553.1 1659.4,1164.8 1810.0,946.8 1960.7,628.2 2111.4,730.2"/><polyline class="c0" points="454.0,306.5 604.7,905.3 755.3,698.4 906.0,1015.3 1056.7,885.5 1207.4,216.5 1358.0,1047.1 1508.7,653.7 1659.4,999.5 1810.0,968.9 1960.7,571.2 2111.4,727.8"/><polyline class="c1" points="454.0,470.0 604.7,873.7 755.3,843.4 906.0,1135.8 1056.7,1313.2 1207.4,416.2 1358.0,973.8 1508.7,722.9 1659.4,1169.3 1810.0,1075.6 1960.7,740.1 2111.4,1101.9"/><polyline class="c2" points="454.0,560.7 604.7,834.4 755.3,993.1 906.0,1060.6 1056.7,1124.2 1207.4,471.4 1358.0,404.5 1508.7,1297.1 1659.4,971.1 1810.0,836.2 1960.7,690.8 2111.4,766.6"/><polyline class="c3" points="454.0,262.2 604.7,725.3 755.3,720.5 906.0,1282.7 1056.7,1125.5 1207.4,177.7 1358.0,232.2 1508.7,1098.3 1659.4,1081.2 1810.0,1092.7 1960.7,722.1 2111.4,1008.5"/><polyline class="c4" points="454.0,474.7 604.7,919.9 755.3,777.4 906.0,1319.7 1056.7,1288.7 1207.4,537.1 1358.0,257.7 1508.7,999.4 1659.4,974.4 1810.0,741.6 1960.7,520.5 2111.4,773.3"/><polyline class="c5" points="454.0,543.9 604.7,825.4 755.3,874.4 906.0,1216.8 1056.7,1108.6 1207.4,312.1 1358.0,580.8 1508.7,1339.2 1659.4,1284.1 1810.0,1141.4 1960.7,857.4 2111.4,587.0"/><polyline class="c6" points="454.0,569.1 604.7,771.7 755.3,728.2 906.0,1278.4 1056.7,1241.2 1207.4,225.0 1358.0,856.3 1508.7,554.6 1659.4,1098.8 1810.0,1082.3 1960.7,577.0 2111.4,385.3"/><polyline class="c0" points="454.0,476.0 604.7,871.7 755.3,897.3 906.0,1111.1 1056.7,1482.4 1207.4,349.3 1358.0,1044.9 1508.7,897.1 1659.4,1204.9 1810.0,1204.1 1960.7,766.8 2111.4,863.8"/><polyline class="c1" points="454.0,305.8 604.7,666.6 755.3,803.3 906.0,1195.2 1056.7,1226.6 1207.4,526.9 1358.0,1026.9 1508.7,731.9 1659.4,1291.7 1810.0,980.7 1960.7,575.7 2111.4,1075.3"/><polyline class="c2" points="454.0,260.0 604.7,684.7 755.3,874.2 906.0,1321.0 1056.7,1307.1 1207.4,450.2 1358.0,1046.5 1508.7,765.3 1659.4,1114.4 1810.0,1074.8 1960.7,747.8 2111.4,509.4"/><polyline class="c3" points="454.0,314.8 604.7,752.5 755.3,765.7 906.0,1267.3 1056.7,1168.1 1207.4,335.4 1358.0,285.7 1508.7,1011.6 1659.4,1046.3 1810.0,868.6 1960.7,734.1 2111.4,778.6"/><polyline class="c4" points="454.0,431.1 604.7,889.7 755.3,816.8 906.0,1185.7 1056.7,1265.6 1207.4,419.8 1358.0,231.0 1508.7,1173.6 1659.4,1187.2 1810.0,1117.4 1960.7,648.9 2111.4,889.0"/><polyline class="c5" points="454.0,396.1 604.7,810.6 755.3,989.5 906.0,1029.7 1056.7,1065.2 1207.4,250.2 1358.0,349.3 1508.7,1245.8 1659.4,1312.9 1810.0,1033.4 1960.7,690.4 2111.4,888.5"/><polyline class="c6" points="454.0,404.0 604.7,820.9 755.3,661.4 906.0,1046.8 1056.7,1267.1 1207.4,512.0 1358.0,1090.0 1508.7,877.9 1659.4,1239.8 1810.0,1045.3 1960.7,664.3 2111.4,749.0"/><polyline class="c0" points="454.0,333.7 604.7,894.0 755.3,852.1 906.0,1065.3 1056.7,1123.2 1207.4,464.0 1358.0,1133.5 1508.7,968.6 1659.4,1122.8 1810.0,1182.8 1960.7,798.7 2111.4,548.1"/><polyline class="c1" points="454.0,255.5 604.7,822.9 755.3,733.1 906.0,939.1 1056.7,1052.4 1207.4,245.4 1358.0,970.4 1508.7,717.9 1659.4,1097.1 1810.0,837.3 1960.7,703.2 2111.4,1062.5"/><polyline class="c2" points="454.0,388.1 604.7,670.4 755.3,682.2 906.0,1222.6 1056.7,1290.1 1207.4,669.7 1358.0,284.0 1508.7,1191.0 1659.4,1050.0 1810.0,1006.5 1960.7,861.7 2111.4,579.4"/><polyline class="c3" points="454.0,471.6 604.7,862.6 755.3,868.5 906.0,1202.1 1056.7,1427.6 1207.4,403.5 1358.0,405.5 1508.7,1238.3 1659.4,1017.1 1810.0,825.7 1960.7,521.8 2111.4,591.5"/><polyline class="c4" points="454.0,605.7 604.7,846.0 755.3,822.7 906.0,1153.5 1056.7,1310.5 1207.4,505.7 1358.0,998.4 1508.7,640.4 1659.4,1203.3 1810.0,1001.4 1960.7,715.2 2111.4,884.0"/><polyline class="c5" points="454.0,429.1 604.7,880.2 755.3,830.5 906.0,1354.6 1056.7,1399.4 1207.4,500.7 1358.0,1150.7 1508.7,808.1 1659.4,1180.2 1810.0,1117.0 1960.7,770.3 2111.4,676.0"/><polyline class="c6" points="454.0,533.2 604.7,803.1 755.3,698.4 906.0,1154.4 1056.7,1338.9 1207.4,507.4 1358.0,508.8 1508.7,1365.6 1659.4,974.2 1810.0,968.1 1960.7,655.6 2111.4,796.7"/><polyline class="c0" points="454.0,663.4 604.7,993.2 755.3,694.8 906.0,1161.5 1056.7,1196.6 1207.4,321.2 1358.0,250.3 1508.7,1072.6 1659.4,974.7 1810.0,821.7 1960.7,599.9 2111.4,802.2"/><polyline class="c1" points="454.0,628.4 604.7,917.7 755.3,985.3 906.0,947.6 1056.7,911.6 1207.4,174.4 1358.0,321.5 1508.7,1033.8 1659.4,1299.2 1810.0,1226.0 1960.7,877.4 2111.4,932.8"/><polyline class="c2" points="454.0,395.0 604.7,646.0 755.3,659.4 906.0,1003.9 1056.7,1074.8 1207.4,308.6 1358.0,466.4 1508.7,1375.9 1659.4,1316.2 1810.0,1180.5 1960.7,721.9 2111.4,1085.3"/><polyline class="c3" points="454.0,391.1 604.7,934.4 755.3,819.0 906.0,1216.2 1056.7,1360.9 1207.4,563.5 1358.0,1110.2 1508.7,874.3 1659.4,1309.0 1810.0,1196.9 1960.7,781.8 2111.4,760.9"/><polyline class="c4" points="454.0,450.4 604.7,775.9 755.3,692.4 906.0,1054.3 1056.7,1135.5 1207.4,456.4 1358.0,1111.6 1508.7,706.5 1659.4,1211.4 1810.0,954.2 1960.7,575.0 2111.4,1053.4"/><polyline class="c5" points="454.0,442.9 604.7,645.0 755.3,666.6 906.0,1210.7 1056.7,1167.7 1207.4,444.3 1358.0,1058.3 1508.7,745.0 1659.4,1145.1 1810.0,995.2 1960.7,779.1 2111.4,1093.1"/><polyline class="c6" points="454.0,551.9 604.7,934.8 755.3,654.8 906.0,1007.9 1056.7,1176.4 1207.4,514.6 1358.0,1150.6 1508.7,794.8 1659.4,1083.3 1810.0,1026.0 1960.7,701.0 2111.4,768.9"/><polyline class="c0" points="454.0,626.0 604.7,869.3 755.3,787.9 906.0,1044.0 1056.7,1103.8 1207.4,436.2 1358.0,514.4 1508.7,1387.3 1659.4,1198.9 1810.0,1044.5 1960.7,676.0 2111.4,1012.5"/><polyline class="c1" points="454.0,244.3 604.7,741.9 755.3,642.9 906.0,1090.4 1056.7,1407.6 1207.4,352.9 1358.0,259.3 1508.7,1180.5 1659.4,1348.4 1810.0,1107.2 1960.7,764.4 2111.4,744.8"/><polyline class="c2" points="454.0,356.3 604.7,1037.9 755.3,1018.8 906.0,1079.1 1056.7,1434.4 1207.4,626.1 1358.0,609.4 1508.7,1218.7 1659.4,972.4 1810.0,970.5 1960.7,599.5 2111.4,745.0"/><polyline class="c3" points="454.0,371.1 604.7,888.6 755.3,751.3 906.0,1334.6 1056.7,1511.1 1207.4,594.8 1358.0,1064.0 1508.7,892.3 1659.4,1228.0 1810.0,1077.6 1960.7,880.7 2111.4,774.0"/><polyline class="c4" points="454.0,433.9 604.7,835.2 755.3,721.0 906.0,993.2 1056.7,1025.4 1207.4,403.7 1358.0,541.2 1508.7,1355.5 1659.4,1211.0 1810.0,1118.8 1960.7,787.0 2111.4,965.8"/><polyline class="c5" points="454.0,304.4 604.7,689.2 755.3,776.5 906.0,1106.0 1056.7,1343.7 1207.4,535.7 1358.0,561.2 1508.7,1272.5 1659.4,1190.4 1810.0,1181.5 1960.7,780.6 2111.4,716.0"/><polyline class="c6" points="454.0,522.8 604.7,835.7 755.3,873.0 906.0,1211.7 1056.7,1255.3 1207.4,283.6 1358.0,828.9 1508.7,552.7 1659.4,938.5 1810.0,921.6 1960.7,694.5 2111.4,873.0"/><polyline class="c0" points="454.0,658.5 604.7,888.3 755.3,1054.9 906.0,1192.1 1056.7,1012.6 1207.4,369.8 1358.0,691.5 1508.7,1294.4 1659.4,994.1 1810.0,862.6 1960.7,551.5 2111.4,1028.1"/><polyline class="c1" points="454.0,233.9 604.7,692.4 755.3,739.3 906.0,1006.5 1056.7,981.9 1207.4,327.2 1358.0,246.0 1508.7,1070.4 1659.4,1077.8 1810.0,837.5 1960.7,562.5 2111.4,734.0"/><polyline class="c2" points="454.0,306.1 604.7,917.6 755.3,867.6 906.0,1340.7 1056.7,1471.9 1207.4,475.7 1358.0,462.1 1508.7,1264.3 1659.4,1089.2 1810.0,1200.9 1960.7,1015.5 2111.4,755.2"/><polyline class="c3" points="454.0,503.3 604.7,852.4 755.3,872.0 906.0,1247.7 1056.7,1311.7 1207.4,368.6 1358.0,216.7 1508.7,1156.0 1659.4,1063.1 1810.0,1140.9 1960.7,628.3 2111.4,909.5"/><polyline class="c4" points="454.0,648.3 604.7,1098.4 755.3,933.5 906.0,1108.5 1056.7,1233.4 1207.4,289.2 1358.0,341.1 1508.7,1142.0 1659.4,1086.9 1810.0,1010.3 1960.7,601.5 2111.4,1095.3"/><polyline class="c5" points="454.0,559.3 604.7,870.3 755.3,884.8 906.0,1191.0 1056.7,1312.1 1207.4,453.7 1358.0,648.5 1508.7,1367.2 1659.4,1168.7 1810.0,1112.4 1960.7,813.4 2111.4,904.1"/><polyline class="c6" points="454.0,396.2 604.7,764.7 755.3,834.5 906.0,1227.9 1056.7,1382.4 1207.4,258.4 1358.0,579.0 1508.7,1302.4 1659.4,1185.7 1810.0,1086.4 1960.7,869.6 2111.4,993.2"/><polyline class="c0" points="454.0,526.2 604.7,742.0 755.3,716.6 906.0,1086.4 1056.7,1054.4 1207.4,429.5 1358.0,1076.8 1508.7,709.5 1659.4,1272.7 1810.0,916.0 1960.7,714.9 2111.4,823.9"/><polyline class="c1" points="454.0,369.4 604.7,889.0 755.3,871.5 906.0,1303.6 1056.7,1080.5 1207.4,495.3 1358.0,1027.3 1508.7,725.4 1659.4,1099.1 1810.0,1117.2 1960.7,666.4 2111.4,662.9"/><polyline class="c2" points="454.0,377.3 604.7,824.8 755.3,747.1 906.0,1257.1 1056.7,1163.8 1207.4,285.2 1358.0,558.5 1508.7,1426.4 1659.4,1276.6 1810.0,1128.4 1960.7,657.5 2111.4,821.3"/><polyline class="c3" points="454.0,596.1 604.7,878.2 755.3,906.0 906.0,1302.9 1056.7,1301.9 1207.4,270.5 1358.0,955.3 1508.7,810.2 1659.4,1177.4 1810.0,1170.5 1960.7,903.2 2111.4,662.1"/><polyline class="c4" points="454.0,275.1 604.7,741.9 755.3,883.0 906.0,1144.3 1056.7,1002.2 1207.4,279.7 1358.0,501.8 1508.7,1340.9 1659.4,1297.7 1810.0,1224.4 1960.7,915.3 2111.4,669.0"/><polyline class="c5" points="454.0,480.8 604.7,740.8 755.3,693.7 906.0,975.7 1056.7,1154.1 1207.4,369.0 1358.0,343.2 1508.7,1198.4 1659.4,1103.7 1810.0,850.7 1960.7,673.6 2111.4,784.9"/><polyline class="c6" points="454.0,450.3 604.7,900.3 755.3,943.8 906.0,1204.8 1056.7,1310.8 1207.4,350.6 1358.0,294.6 1508.7,1296.7 1659.4,1049.9 1810.0,1205.3 1960.7,782.6 2111.4,668.5"/><polyline class="c0" points="454.0,461.0 604.7,918.6 755.3,750.3 906.0,1377.9 1056.7,1458.0 1207.4,637.1 1358.0,556.6 1508.7,1209.4 1659.4,1001.0 1810.0,851.8 1960.7,612.9 2111.4,997.1"/><polyline class="c1" points="454.0,333.8 604.7,892.0 755.3,997.2 906.0,1258.2 1056.7,1077.0 1207.4,208.4 1358.0,796.9 1508.7,690.9 1659.4,1161.4 1810.0,873.2 1960.7,627.8 2111.4,706.7"/><polyline class="c2" points="454.0,481.9 604.7,833.7 755.3,864.6 906.0,1220.9 1056.7,1445.8 1207.4,294.6 1358.0,962.8 1508.7,866.3 1659.4,1124.9 1810.0,1010.7 1960.7,645.5 2111.4,875.7"/><polyline class="c3" points="454.0,533.5 604.7,802.9 755.3,724.6 906.0,1022.7 1056.7,841.7 1207.4,309.5 1358.0,274.3 1508.7,1074.7 1659.4,977.9 1810.0,864.6 1960.7,650.6 2111.4,916.5"/><polyline class="c4" points="454.0,606.6 604.7,720.2 755.3,778.7 906.0,1224.4 1056.7,990.1 1207.4,203.7 1358.0,888.0 1508.7,596.5 1659.4,1057.4 1810.0,924.8 1960.7,526.2 2111.4,689.4"/><polyline class="c5" points="454.0,317.7 604.7,673.2 755.3,764.1 906.0,1205.1 1056.7,953.6 1207.4,256.1 1358.0,1063.8 1508.7,747.4 1659.4,939.0 1810.0,813.6 1960.7,536.5 2111.4,1145.1"/><polyline class="c6" points="454.0,258.2 604.7,803.0 755.3,670.7 906.0,1076.5 1056.7,1094.6 1207.4,185.9 1358.0,911.5 1508.7,723.1 1659.4,1119.0 1810.0,973.8 1960.7,830.2 2111.4,584.3"/><polyline class="c0" points="454.0,430.3 604.7,732.9 755.3,817.0 906.0,1006.9 1056.7,1115.2 1207.4,233.3 1358.0,1001.9 1508.7,749.8 1659.4,1108.9 1810.0,1101.7 1960.7,792.7 2111.4,769.1"/><polyline class="c1" points="454.0,298.9 604.7,682.4 755.3,717.0 906.0,1028.0 1056.7,933.5 1207.4,216.9 1358.0,870.6 1508.7,609.6 1659.4,1258.7 1810.0,1100.7 1960.7,700.2 2111.4,666.6"/><polyline class="c2" points="454.0,276.8 604.7,838.9 755.3,832.0 906.0,975.9 1056.7,1329.9 1207.4,403.9 1358.0,419.9 1508.7,1249.1 1659.4,1216.8 1810.0,988.1 1960.7,780.9 2111.4,1020.9"/><polyline class="c3" points="454.0,573.9 604.7,802.3 755.3,798.6 906.0,1235.1 1056.7,1293.6 1207.4,391.1 1358.0,338.4 1508.7,1251.7 1659.4,1179.4 1810.0,1193.9 1960.7,816.3 2111.4,1084.2"/><polyline class="c4" points="454.0,484.4 604.7,643.0 755.3,638.5 906.0,1151.8 1056.7,1043.2 1207.4,250.4 1358.0,486.7 1508.7,1413.7 1659.4,1091.9 1810.0,947.9 1960.7,846.4 2111.4,655.2"/><polyline class="c5" points="454.0,519.4 604.7,745.4 755.3,992.9 906.0,1205.3 1056.7,1223.9 1207.4,265.8 1358.0,299.3 1508.7,1157.6 1659.4,1054.4 1810.0,1046.4 1960.7,589.7 2111.4,918.6"/><polyline class="c6" points="454.0,421.4 604.7,843.0 755.3,755.7 906.0,1101.4 1056.7,983.6 1207.4,196.6 1358.0,348.6 1508.7,1166.0 1659.4,1114.6 1810.0,1100.6 1960.7,843.8 2111.4,720.0"/><polyline class="c0" points="454.0,596.2 604.7,876.1 755.3,809.3 906.0,1148.6 1056.7,1394.2 1207.4,513.4 1358.0,952.6 1508.7,782.6 1659.4,1223.1 1810.0,822.9 1960.7,585.0 2111.4,952.3"/><polyline class="c1" points="454.0,375.1 604.7,964.9 755.3,871.2 906.0,1273.6 1056.7,1457.4 1207.4,302.0 1358.0,377.6 1508.7,1148.7 1659.4,1030.7 1810.0,1042.8 1960.7,711.8 2111.4,882.9"/><polyline class="c2" points="454.0,359.0 604.7,843.1 755.3,664.5 906.0,1085.4 1056.7,1106.9 1207.4,399.4 1358.0,987.4 1508.7,808.7 1659.4,605.5 1810.0,692.8 1960.7,765.9 2111.4,847.8"/><polyline class="c3" points="454.0,406.8 604.7,770.2 755.3,807.3 906.0,1171.2 1056.7,1427.7 1207.4,624.7 1358.0,1050.7 1508.7,704.9 1659.4,1291.4 1810.0,897.7 1960.7,721.7 2111.4,719.3"/><polyline class="c4" points="454.0,408.5 604.7,743.8 755.3,960.6 906.0,1183.6 1056.7,1270.8 1207.4,367.2 1358.0,1035.1 1508.7,811.5 1659.4,1290.2 1810.0,1023.6 1960.7,785.3 2111.4,723.6"/><polyline class="c5" points="454.0,440.7 604.7,770.8 755.3,741.1 906.0,1222.8 1056.7,1185.5 1207.4,199.0 1358.0,986.9 1508.7,758.1 1659.4,1253.0 1810.0,864.0 1960.7,767.0 2111.4,791.6"/><polyline class="c6" points="454.0,549.0 604.7,866.3 755.3,920.5 906.0,1321.9 1056.7,1306.2 1207.4,334.1 1358.0,438.9 1508.7,1246.6 1659.4,1073.0 1810.0,843.8 1960.7,741.1 2111.4,698.4"/><polyline class="c0" points="454.0,626.1 604.7,973.6 755.3,799.5 906.0,1125.1 1056.7,1376.9 1207.4,251.5 1358.0,294.8 1508.7,1179.8 1659.4,1209.0 1810.0,1024.0 1960.7,747.4 2111.4,619.4"/><polyline class="c1" points="454.0,335.1 604.7,831.4 755.3,997.6 906.0,1117.6 1056.7,1362.1 1207.4,436.6 1358.0,434.0 1508.7,1316.0 1659.4,1073.1 1810.0,1143.3 1960.7,640.5 2111.4,953.3"/><polyline class="c2" points="454.0,260.0 604.7,871.4 755.3,926.3 906.0,1059.7 1056.7,1141.4 1207.4,311.3 1358.0,610.2 1508.7,1416.6 1659.4,1178.1 1810.0,878.0 1960.7,712.1 2111.4,981.1"/><polyline class="c3" points="454.0,355.6 604.7,737.6 755.3,839.9 906.0,1353.3 1056.7,1077.3 1207.4,350.1 1358.0,257.7 1508.7,1303.2 1659.4,1133.0 1810.0,1082.3 1960.7,836.0 2111.4,620.0"/><polyline class="c4" points="454.0,511.6 604.7,763.2 755.3,927.6 906.0,1248.5 1056.7,1297.8 1207.4,433.4 1358.0,344.0 1508.7,1303.5 1659.4,1058.8 1810.0,857.6 1960.7,660.0 2111.4,1046.9"/><polyline class="c5" points="454.0,435.2 604.7,901.3 755.3,836.6 906.0,1292.2 1056.7,1276.0 1207.4,388.9 1358.0,1019.1 1508.7,716.7 1659.4,1108.8 1810.0,889.4 1960.7,723.7 2111.4,686.9"/><polyline class="c6" points="454.0,488.3 604.7,950.0 755.3,702.6 906.0,1123.2 1056.7,1288.4 1207.4,377.6 1358.0,400.3 1508.7,1282.1 1659.4,1330.2 1810.0,1138.2 1960.7,780.7 2111.4,842.2"/><polyline class="c0" points="454.0,591.4 604.7,971.8 755.3,855.3 906.0,1067.3 1056.7,1073.9 1207.4,232.5 1358.0,1117.3 1508.7,751.5 1659.4,1120.0 1810.0,937.7 1960.7,733.3 2111.4,716.3"/><polyline class="c1" points="454.0,240.7 604.7,731.8 755.3,946.9 906.0,1170.0 1056.7,1113.7 1207.4,256.6 1358.0,809.7 1508.7,648.2 1659.4,1199.1 1810.0,1130.4 1960.7,706.2 2111.4,967.8"/><polyline class="c2" points="454.0,542.7 604.7,712.2 755.3,751.2 906.0,1199.1 1056.7,1091.4 1207.4,238.3 1358.0,458.1 1508.7,1198.1 1659.4,1110.1 1810.0,1214.2 1960.7,897.0 2111.4,701.0"/><polyline class="c3" points="454.0,467.4 604.7,943.9 755.3,832.0 906.0,1111.8 1056.7,855.1 1207.4,354.1 1358.0,400.5 1508.7,1290.5 1659.4,1070.2 1810.0,1215.5 1960.7,874.6 2111.4,657.1"/><polyline class="c4" points="454.0,247.9 604.7,716.8 755.3,866.1 906.0,1032.0 1056.7,1171.6 1207.4,268.5 1358.0,428.6 1508.7,1297.5 1659.4,1084.4 1810.0,976.2 1960.7,755.1 2111.4,959.9"/><polyline class="c5" points="454.0,228.7 604.7,845.6 755.3,746.3 906.0,1375.3 1056.7,1470.0 1207.4,437.0 1358.0,897.6 1508.7,675.8 1659.4,1047.1 1810.0,932.0 1960.7,582.2 2111.4,1046.2"/><polyline class="c6" points="454.0,483.5 604.7,866.0 755.3,829.7 906.0,1186.0 1056.7,1343.1 1207.4,438.5 1358.0,560.5 1508.7,1192.9 1659.4,1046.9 1810.0,1009.3 1960.7,571.7 2111.4,638.4"/><polyline class="c0" points="454.0,497.3 604.7,798.6 755.3,742.0 906.0,996.5 1056.7,1159.9 1207.4,392.1 1358.0,836.3 1508.7,557.8 1659.4,974.9 1810.0,1003.4 1960.7,658.0 2111.4,637.1"/><polyline class="c1" points="454.0,301.9 604.7,773.6 755.3,681.3 906.0,1217.4 1056.7,1306.0 1207.4,447.7 1358.0,1095.1 1508.7,605.5 1659.4,1228.0 1810.0,1053.1 1960.7,807.0 2111.4,1007.3"/><polyline class="c2" points="454.0,605.3 604.7,878.2 755.3,636.0 906.0,1148.1 1056.7,1127.6 1207.4,412.6 1358.0,348.8 1508.7,1325.5 1659.4,1160.2 1810.0,1052.7 1960.7,552.1 2111.4,890.2"/><polyline class="c3" points="454.0,504.2 604.7,970.2 755.3,780.5 906.0,996.3 1056.7,1197.8 1207.4,265.6 1358.0,989.4 1508.7,689.9 1659.4,1071.4 1810.0,1139.8 1960.7,836.4 2111.4,622.1"/><polyline class="c4" points="454.0,422.0 604.7,856.2 755.3,945.0 906.0,1169.6 1056.7,1165.1 1207.4,271.2 1358.0,1153.4 1508.7,672.9 1659.4,1157.9 1810.0,912.8 1960.7,674.1 2111.4,936.5"/><polyline class="c5" points="454.0,194.7 604.7,617.8 755.3,751.6 906.0,1129.0 1056.7,1017.7 1207.4,227.3 1358.0,310.5 1508.7,1200.8 1659.4,1282.2 1810.0,1033.5 1960.7,617.5 2111.4,546.2"/><polyline class="c6" points="454.0,329.8 604.7,795.9 755.3,680.2 906.0,1161.4 1056.7,1324.1 1207.4,580.1 1358.0,1056.3 1508.7,747.8 1659.4,1042.0 1810.0,1029.4 1960.7,515.0 2111.4,1026.0"/><polyline class="c0" points="454.0,361.8 604.7,687.6 755.3,784.4 906.0,1272.8 1056.7,1407.2 1207.4,351.2 1358.0,374.8 1508.7,1196.2 1659.4,1246.2 1810.0,1081.8 1960.7,719.7 2111.4,703.4"/><polyline class="c1" points="454.0,536.2 604.7,672.2 755.3,801.2 906.0,1174.3 1056.7,1291.0 1207.4,556.1 1358.0,620.1 1508.7,1331.2 1659.4,1278.2 1810.0,873.8 1960.7,779.2 2111.4,1103.1"/><polyline class="c2" points="454.0,584.4 604.7,707.1 755.3,826.0 906.0,1103.0 1056.7,1406.9 1207.4,371.1 1358.0,956.2 1508.7,605.4 1659.4,1029.3 1810.0,889.4 1960.7,643.0 2111.4,678.3"/><polyline class="c3" points="454.0,345.4 604.7,866.4 755.3,754.3 906.0,1194.9 1056.7,1338.7 1207.4,499.2 1358.0,279.7 1508.7,1292.0 1659.4,1339.9 1810.0,1031.6 1960.7,1059.2 2111.4,799.8"/><polyline class="c4" points="454.0,208.3 604.7,813.9 755.3,898.1 906.0,1222.7 1056.7,1205.4 1207.4,292.2 1358.0,1101.0 1508.7,746.2 1659.4,976.7 1810.0,1112.3 1960.7,703.9 2111.4,684.5"/><polyline class="c5" points="454.0,456.7 604.7,1031.2 755.3,778.6 906.0,1202.8 1056.7,1271.9 1207.4,247.7 1358.0,635.3 1508.7,1365.7 1659.4,1129.7 1810.0,940.4 1960.7,619.6 2111.4,560.0"/><polyline class="c6" points="454.0,285.2 604.7,699.5 755.3,954.6 906.0,1271.3 1056.7,957.3 1207.4,260.6 1358.0,352.8 1508.7,1318.2 1659.4,1231.5 1810.0,1211.5 1960.7,860.6 2111.4,669.8"/><polyline class="c0" points="454.0,516.0 604.7,694.8 755.3,719.6 906.0,1093.4 1056.7,1022.6 1207.4,331.6 1358.0,436.6 1508.7,1389.7 1659.4,1128.2 1810.0,1047.1 1960.7,723.2 2111.4,1018.0"/><polyline class="c1" points="454.0,333.5 604.7,772.5 755.3,992.6 906.0,1283.5 1056.7,1278.0 1207.4,487.1 1358.0,1029.6 1508.7,655.4 1659.4,1177.3 1810.0,1073.5 1960.7,792.9 2111.4,620.7"/><polyline class="c2" points="454.0,198.8 604.7,722.4 755.3,889.3 906.0,1121.6 1056.7,1240.4 1207.4,340.6 1358.0,255.8 1508.7,1163.7 1659.4,1038.7 1810.0,1192.9 1960.7,703.1 2111.4,789.5"/><polyline class="c3" points="454.0,500.2 604.7,686.0 755.3,824.0 906.0,1013.4 1056.7,1237.5 1207.4,356.1 1358.0,973.3 1508.7,566.9 1659.4,988.4 1810.0,885.0 1960.7,659.5 2111.4,891.3"/><polyline class="c4" points="454.0,226.1 604.7,642.2 755.3,810.9 906.0,1142.7 1056.7,1390.7 1207.4,323.7 1358.0,295.2 1508.7,1164.5 1659.4,1234.2 1810.0,997.6 1960.7,648.5 2111.4,870.8"/><polyline class="c5" points="454.0,593.9 604.7,937.2 755.3,977.3 906.0,1164.4 1056.7,971.9 1207.4,241.4 1358.0,852.9 1508.7,659.6 1659.4,1139.1 1810.0,902.3 1960.7,609.7 2111.4,614.0"/><polyline class="c6" points="454.0,540.6 604.7,1042.4 755.3,918.7 906.0,1309.0 1056.7,1447.1 1207.4,614.7 1358.0,1160.5 1508.7,866.2 1659.4,1240.5 1810.0,850.8 1960.7,742.8 2111.4,801.7"/><polyline class="c0" points="454.0,562.9 604.7,846.4 755.3,777.5 906.0,1309.1 1056.7,1092.5 1207.4,411.3 1358.0,945.6 1508.7,711.2 1659.4,1039.1 1810.0,888.8 1960.7,679.3 2111.4,736.6"/><polyline class="c1" points="454.0,591.5 604.7,905.6 755.3,697.4 906.0,1241.5 1056.7,1348.5 1207.4,238.3 1358.0,938.3 1508.7,702.2 1659.4,1242.6 1810.0,1087.7 1960.7,688.8 2111.4,831.5"/><polyline class="c2" points="454.0,374.5 604.7,693.8 755.3,686.2 906.0,1167.1 1056.7,1072.1 1207.4,182.9 1358.0,255.5 1508.7,1243.4 1659.4,1132.8 1810.0,1048.7 1960.7,519.9 2111.4,748.3"/><polyline class="c3" points="454.0,454.8 604.7,677.0 755.3,892.4 906.0,1232.8 1056.7,1249.8 1207.4,388.3 1358.0,491.1 1508.7,1276.1 1659.4,1332.7 1810.0,1208.4 1960.7,858.7 2111.4,818.6"/><polyline class="c4" points="454.0,427.8 604.7,861.5 755.3,882.2 906.0,1128.6 1056.7,1053.6 1207.4,217.2 1358.0,465.6 1508.7,1254.6 1659.4,1070.4 1810.0,1015.7 1960.7,669.7 2111.4,877.0"/><polyline class="c5" points="454.0,607.6 604.7,823.2 755.3,877.6 906.0,1262.8 1056.7,1315.1 1207.4,285.4 1358.0,264.0 1508.7,1124.7 1659.4,1014.4 1810.0,994.6 1960.7,812.5 2111.4,1090.3"/><polyline class="c6" points="454.0,452.1 604.7,822.9 755.3,814.4 906.0,1020.0 1056.7,1314.9 1207.4,500.6 1358.0,249.0 1508.7,1072.9 1659.4,1141.0 1810.0,1224.6 1960.7,881.4 2111.4,819.3"/><polyline class="c0" points="454.0,400.5 604.7,842.8 755.3,703.1 906.0,1297.8 1056.7,1328.8 1207.4,497.0 1358.0,356.4 1508.7,666.1 1659.4,706.2 1810.0,773.1 1960.7,488.7 2111.4,805.8"/><polyline class="c1" points="454.0,431.6 604.7,870.7 755.3,753.0 906.0,1042.0 1056.7,1109.5 1207.4,329.9 1358.0,478.5 1508.7,1145.8 1659.4,995.2 1810.0,1225.6 1960.7,823.6 2111.4,939.8"/><polyline class="c2" points="454.0,236.0 604.7,889.9 755.3,976.2 906.0,951.9 1056.7,1177.9 1207.4,367.6 1358.0,270.6 1508.7,1197.7 1659.4,1139.6 1810.0,1000.0 1960.7,581.6 2111.4,1108.3"/><polyline class="c3" points="454.0,446.0 604.7,720.1 755.3,857.2 906.0,1112.2 1056.7,1284.3 1207.4,433.2 1358.0,277.1 1508.7,1179.6 1659.4,852.5 1810.0,770.0 1960.7,513.9 2111.4,754.2"/><polyline class="c4" points="454.0,607.4 604.7,817.3 755.3,955.6 906.0,1242.8 1056.7,1310.0 1207.4,511.8 1358.0,311.1 1508.7,1115.7 1659.4,1093.6 1810.0,933.0 1960.7,752.3 2111.4,652.3"/><polyline class="c5" points="454.0,242.3 604.7,839.1 755.3,887.8 906.0,1028.9 1056.7,1050.2 1207.4,396.6 1358.0,332.3 1508.7,1199.9 1659.4,1141.5 1810.0,957.4 1960.7,627.5 2111.4,665.1"/><polyline class="c6" points="454.0,374.8 604.7,817.0 755.3,669.1 906.0,1241.1 1056.7,969.7 1207.4,159.8 1358.0,756.6 1508.7,589.1 1659.4,867.1 1810.0,741.6 1960.7,503.9 2111.4,513.3"/><polyline class="c0" points="454.0,339.3 604.7,944.6 755.3,1073.7 906.0,1158.4 1056.7,938.9 1207.4,782.9 1358.0,635.8 1508.7,1111.8 1659.4,1144.8 1810.0,892.2 1960.7,536.2 2111.4,1050.2"/><polyline class="c1" points="454.0,525.1 604.7,917.7 755.3,1032.0 906.0,1269.4 1056.7,1005.1 1207.4,383.5 1358.0,644.3 1508.7,1377.2 1659.4,1279.0 1810.0,1040.6 1960.7,783.5 2111.4,821.3"/><polyline class="c2" points="454.0,561.5 604.7,810.1 755.3,800.6 906.0,1170.8 1056.7,1133.5 1207.4,419.4 1358.0,1032.4 1508.7,731.5 1659.4,1025.4 1810.0,1166.4 1960.7,813.8 2111.4,703.3"/><polyline class="c3" points="454.0,412.0 604.7,737.2 755.3,736.5 906.0,1335.6 1056.7,1442.6 1207.4,646.9 1358.0,1138.9 1508.7,796.6 1659.4,1056.2 1810.0,967.5 1960.7,786.9 2111.4,617.7"/><polyline class="c4" points="454.0,426.9 604.7,844.0 755.3,739.8 906.0,1044.3 1056.7,1241.1 1207.4,454.2 1358.0,1055.0 1508.7,818.9 1659.4,1112.1 1810.0,967.0 1960.7,572.3 2111.4,533.9"/><polyline class="c5" points="454.0,515.2 604.7,783.4 755.3,759.9 906.0,1203.6 1056.7,1449.7 1207.4,224.6 1358.0,920.9 1508.7,805.4 1659.4,1379.0 1810.0,1111.8 1960.7,973.6 2111.4,1111.8"/><polyline class="c6" points="454.0,442.6 604.7,868.9 755.3,1077.5 906.0,948.3 1056.7,1020.4 1207.4,307.3 1358.0,506.4 1508.7,1339.2 1659.4,917.1 1810.0,825.4 1960.7,737.8 2111.4,654.1"/><polyline class="c0" points="454.0,347.2 604.7,814.8 755.3,838.0 906.0,1141.1 1056.7,1247.0 1207.4,538.9 1358.0,609.9 1508.7,1348.4 1659.4,1360.1 1810.0,1198.9 1960.7,832.1 2111.4,652.3"/><polyline class="c1" points="454.0,358.2 604.7,782.4 755.3,842.3 906.0,1206.4 1056.7,1162.9 1207.4,240.3 1358.0,478.9 1508.7,1381.2 1659.4,1309.4 1810.0,1281.3 1960.7,927.8 2111.4,609.1"/><polyline class="c2" points="454.0,243.5 604.7,754.5 755.3,777.7 906.0,1234.8 1056.7,1336.5 1207.4,376.5 1358.0,292.7 1508.7,1134.4 1659.4,1349.8 1810.0,1125.7 1960.7,763.0 2111.4,914.8"/><polyline class="c3" points="454.0,298.9 604.7,769.0 755.3,886.0 906.0,938.6 1056.7,1152.9 1207.4,276.3 1358.0,241.3 1508.7,1194.8 1659.4,1074.4 1810.0,1086.9 1960.7,766.9 2111.4,944.3"/><polyline class="c4" points="454.0,599.4 604.7,810.4 755.3,813.0 906.0,1356.1 1056.7,1034.1 1207.4,342.6 1358.0,1025.0 1508.7,727.9 1659.4,1249.1 1810.0,1181.4 1960.7,792.0 2111.4,959.7"/><polyline class="c5" points="454.0,262.4 604.7,892.0 755.3,1024.9 906.0,1206.4 1056.7,1169.8 1207.4,263.0 1358.0,500.5 1508.7,1416.2 1659.4,1132.9 1810.0,944.7 1960.7,561.5 2111.4,1050.8"/><polyline class="c6" points="454.0,287.4 604.7,987.0 755.3,761.4 906.0,998.1 1056.7,1046.2 1207.4,238.7 1358.0,261.1 1508.7,1169.0 1659.4,1314.9 1810.0,1219.6 1960.7,838.2 2111.4,937.5"/><polyline class="c0" points="454.0,491.2 604.7,850.6 755.3,1030.4 906.0,1140.4 1056.7,1329.3 1207.4,244.7 1358.0,576.3 1508.7,1300.8 1659.4,1235.7 1810.0,1128.4 1960.7,613.0 2111.4,682.7"/><polyline class="c1" points="454.0,253.5 604.7,847.2 755.3,740.4 906.0,1338.3 1056.7,1360.9 1207.4,461.0 1358.0,1080.9 1508.7,934.9 1659.4,1388.6 1810.0,1224.7 1960.7,772.7 2111.4,788.7"/><polyline class="c2" points="454.0,607.0 604.7,907.6 755.3,920.3 906.0,1265.0 1056.7,1236.6 1207.4,343.6 1358.0,965.9 1508.7,745.0 1659.4,1253.2 1810.0,1122.2 1960.7,787.0 2111.4,1073.6"/><polyline class="c3" points="454.0,615.4 604.7,1035.3 755.3,1013.4 906.0,1266.2 1056.7,1147.9 1207.4,363.9 1358.0,964.0 1508.7,597.4 1659.4,1031.8 1810.0,911.7 1960.7,727.5 2111.4,671.6"/><polyline class="c4" points="454.0,419.1 604.7,952.7 755.3,984.8 906.0,1265.5 1056.7,1250.5 1207.4,253.5 1358.0,556.5 1508.7,1343.8 1659.4,1239.0 1810.0,834.0 1960.7,648.0 2111.4,945.6"/><polyline class="c5" points="454.0,578.0 604.7,798.7 755.3,1007.2 906.0,972.3 1056.7,1133.6 1207.4,372.6 1358.0,1120.4 1508.7,817.9 1659.4,1211.1 1810.0,1154.6 1960.7,672.8 2111.4,898.7"/><polyline class="c6" points="454.0,385.8 604.7,676.3 755.3,806.4 906.0,1158.6 1056.7,1169.3 1207.4,268.9 1358.0,599.8 1508.7,1254.4 1659.4,1182.7 1810.0,1134.8 1960.7,770.8 2111.4,1105.1"/><polyline class="c0" points="454.0,399.4 604.7,677.6 755.3,771.4 906.0,1114.0 1056.7,1250.9 1207.4,272.5 1358.0,1001.2 1508.7,693.1 1659.4,1162.2 1810.0,1022.7 1960.7,1032.5 2111.4,978.1"/><polyline class="c1" points="454.0,194.6 604.7,728.8 755.3,872.5 906.0,1107.0 1056.7,1114.7 1207.4,373.6 1358.0,854.6 1508.7,593.8 1659.4,969.7 1810.0,881.5 1960.7,642.5 2111.4,669.7"/><polyline class="c2" points="454.0,541.8 604.7,838.2 755.3,998.6 906.0,995.8 1056.7,1246.2 1207.4,421.0 1358.0,376.9 1508.7,1096.1 1659.4,1114.2 1810.0,1100.4 1960.7,832.4 2111.4,731.7"/><polyline class="c3" points="454.0,205.4 604.7,644.3 755.3,1066.2 906.0,1301.6 1056.7,1220.5 1207.4,184.6 1358.0,543.7 1508.7,1341.7 1659.4,978.1 1810.0,635.8 1960.7,755.2 2111.4,910.6"/><polyline class="c4" points="454.0,574.4 604.7,856.4 755.3,1001.8 906.0,1067.2 1056.7,715.1 1207.4,461.1 1358.0,973.0 1508.7,718.7 1659.4,1184.1 1810.0,1039.2 1960.7,686.1 2111.4,835.8"/><polyline class="c5" points="454.0,487.3 604.7,885.7 755.3,788.5 906.0,1142.8 1056.7,932.5 1207.4,242.8 1358.0,939.3 1508.7,764.3 1659.4,1165.2 1810.0,1095.0 1960.7,823.0 2111.4,746.5"/><polyline class="c6" points="454.0,548.7 604.7,927.7 755.3,861.0 906.0,1137.6 1056.7,999.8 1207.4,329.1 1358.0,1005.6 1508.7,812.2 1659.4,1303.8 1810.0,1180.9 1960.7,874.4 2111.4,682.0"/><polyline class="c0" points="454.0,504.7 604.7,922.8 755.3,708.0 906.0,1183.1 1056.7,994.3 1207.4,574.0 1358.0,542.5 1508.7,1375.4 1659.4,1284.2 1810.0,1031.7 1960.7,621.4 2111.4,886.0"/><polyline class="c1" points="454.0,578.8 604.7,831.7 755.3,844.1 906.0,1341.7 1056.7,1161.7 1207.4,416.6 1358.0,995.9 1508.7,806.1 1659.4,1194.0 1810.0,992.8 1960.7,701.0 2111.4,915.7"/><polyline class="c2" points="454.0,396.1 604.7,863.4 755.3,831.4 906.0,1179.7 1056.7,1287.1 1207.4,282.3 1358.0,218.7 1508.7,1129.0 1659.4,1138.1 1810.0,1131.8 1960.7,872.1 2111.4,595.4"/><polyline class="c3" points="454.0,375.7 604.7,965.0 755.3,955.9 906.0,1121.2 1056.7,1123.1 1207.4,288.3 1358.0,313.3 1508.7,1170.7 1659.4,1010.8 1810.0,774.5 1960.7,559.2 2111.4,902.3"/><polyline class="c4" points="454.0,500.8 604.7,876.3 755.3,685.9 906.0,1323.5 1056.7,1407.6 1207.4,265.0 1358.0,155.3 1508.7,1111.8 1659.4,1364.1 1810.0,1285.7 1960.7,870.2 2111.4,1055.3"/><polyline class="c5" points="454.0,282.8 604.7,916.3 755.3,892.8 906.0,1174.6 1056.7,1431.1 1207.4,594.1 1358.0,606.1 1508.7,1350.5 1659.4,1170.0 1810.0,1224.9 1960.7,807.6 2111.4,807.9"/><polyline class="c6" points="454.0,501.3 604.7,724.6 755.3,653.3 906.0,1207.0 1056.7,1274.5 1207.4,560.7 1358.0,1129.5 1508.7,747.1 1659.4,1180.3 1810.0,1017.5 1960.7,723.5 2111.4,797.2"/><polyline class="c0" points="454.0,319.9 604.7,998.3 755.3,922.7 906.0,1377.4 1056.7,1371.5 1207.4,501.6 1358.0,551.6 1508.7,1185.6 1659.4,1094.6 1810.0,862.9 1960.7,589.1 2111.4,594.5"/><polyline class="c1" points="454.0,465.8 604.7,839.5 755.3,628.3 906.0,1192.7 1056.7,1226.7 1207.4,238.2 1358.0,162.4 1508.7,1129.6 1659.4,939.4 1810.0,829.4 1960.7,519.4 2111.4,775.0"/><polyline class="c2" points="454.0,532.9 604.7,691.6 755.3,710.7 906.0,908.6 1056.7,924.6 1207.4,312.7 1358.0,974.2 1508.7,721.1 1659.4,1126.5 1810.0,952.1 1960.7,812.8 2111.4,881.1"/><polyline class="c3" points="454.0,629.1 604.7,963.4 755.3,776.1 906.0,1345.5 1056.7,1422.0 1207.4,551.9 1358.0,291.1 1508.7,1246.6 1659.4,1245.5 1810.0,1307.9 1960.7,978.1 2111.4,1022.8"/><polyline class="c4" points="454.0,496.1 604.7,984.6 755.3,897.8 906.0,1158.8 1056.7,1145.9 1207.4,207.9 1358.0,805.6 1508.7,730.5 1659.4,1232.5 1810.0,883.5 1960.7,658.7 2111.4,909.5"/><polyline class="c5" points="454.0,517.3 604.7,734.1 755.3,822.5 906.0,1011.3 1056.7,1173.8 1207.4,251.4 1358.0,245.2 1508.7,1010.1 1659.4,1176.1 1810.0,1094.7 1960.7,864.2 2111.4,1064.7"/><polyline class="c6" points="454.0,400.7 604.7,683.3 755.3,812.0 906.0,967.7 1056.7,1088.4 1207.4,226.4 1358.0,349.8 1508.7,1311.1 1659.4,992.2 1810.0,959.1 1960.7,586.8 2111.4,930.8"/><polyline class="c0" points="454.0,450.7 604.7,865.5 755.3,852.7 906.0,1087.9 1056.7,1378.6 1207.4,545.5 1358.0,352.2 1508.7,1274.7 1659.4,1146.9 1810.0,1179.6 1960.7,808.7 2111.4,611.4"/><polyline class="c1" points="454.0,394.6 604.7,858.6 755.3,821.7 906.0,1345.0 1056.7,1470.6 1207.4,479.2 1358.0,677.9 1508.7,1286.5 1659.4,1069.2 1810.0,1156.4 1960.7,994.1 2111.4,666.1"/><polyline class="c2" points="454.0,443.5 604.7,684.1 755.3,716.2 906.0,988.6 1056.7,1000.6 1207.4,368.9 1358.0,428.6 1508.7,1321.0 1659.4,1232.0 1810.0,1143.9 1960.7,790.4 2111.4,591.5"/><polyline class="c3" points="454.0,585.6 604.7,942.3 755.3,923.8 906.0,1247.7 1056.7,1289.9 1207.4,442.6 1358.0,297.6 1508.7,1097.7 1659.4,1213.5 1810.0,962.4 1960.7,571.7 2111.4,871.5"/><polyline class="c4" points="454.0,361.8 604.7,813.3 755.3,778.2 906.0,1290.4 1056.7,964.3 1207.4,258.0 1358.0,287.1 1508.7,1220.4 1659.4,1131.2 1810.0,1237.2 1960.7,922.2 2111.4,1122.2"/><polyline class="c5" points="454.0,598.3 604.7,1015.2 755.3,768.8 906.0,1220.7 1056.7,1271.5 1207.4,258.3 1358.0,910.9 1508.7,662.8 1659.4,1028.2 1810.0,1171.9 1960.7,669.3 2111.4,612.0"/><polyline class="c6" points="454.0,548.4 604.7,667.1 755.3,997.5 906.0,1283.2 1056.7,1357.1 1207.4,237.0 1358.0,886.1 1508.7,557.8 1659.4,969.9 1810.0,967.8 1960.7,798.8 2111.4,889.9"/><polyline class="c0" points="454.0,544.0 604.7,1016.2 755.3,865.8 906.0,1005.7 1056.7,887.9 1207.4,162.7 1358.0,202.6 1508.7,1213.7 1659.4,1195.8 1810.0,1102.4 1960.7,735.5 2111.4,981.6"/><polyline class="c1" points="454.0,260.7 604.7,754.9 755.3,826.8 906.0,1139.3 1056.7,1139.1 1207.4,242.3 1358.0,1018.3 1508.7,611.0 1659.4,1052.8 1810.0,988.8 1960.7,635.2 2111.4,974.5"/><polyline class="c2" points="454.0,211.1 604.7,695.7 755.3,746.9 906.0,1215.6 1056.7,998.3 1207.4,594.8 1358.0,1187.6 1508.7,844.4 1659.4,1230.1 1810.0,1201.8 1960.7,809.9 2111.4,908.5"/><polyline class="c3" points="454.0,588.9 604.7,994.2 755.3,1000.5 906.0,1201.6 1056.7,1134.1 1207.4,449.4 1358.0,1106.5 1508.7,947.8 1659.4,1318.4 1810.0,1224.7 1960.7,633.8 2111.4,568.2"/><polyline class="c4" points="454.0,405.1 604.7,764.0 755.3,863.8 906.0,1219.4 1056.7,1134.8 1207.4,350.7 1358.0,434.9 1508.7,1261.0 1659.4,1067.2 1810.0,701.8 1960.7,621.5 2111.4,788.4"/><polyline class="c5" points="454.0,457.2 604.7,883.6 755.3,927.2 906.0,1147.1 1056.7,1188.2 1207.4,374.6 1358.0,994.5 1508.7,557.8 1659.4,934.2 1810.0,1089.4 1960.7,628.2 2111.4,815.7"/><polyline class="c6" points="454.0,256.4 604.7,777.7 755.3,695.5 906.0,1228.2 1056.7,1068.5 1207.4,322.6 1358.0,272.6 1508.7,1086.2 1659.4,1254.6 1810.0,1062.1 1960.7,688.3 2111.4,834.7"/><polyline class="c0" points="454.0,383.3 604.7,847.0 755.3,697.8 906.0,1282.3 1056.7,1108.1 1207.4,291.1 1358.0,185.0 1508.7,1111.3 1659.4,1000.7 1810.0,996.1 1960.7,783.4 2111.4,618.8"/><polyline class="c1" points="454.0,282.5 604.7,967.0 755.3,1008.5 906.0,1112.9 1056.7,1337.2 1207.4,260.8 1358.0,830.0 1508.7,654.9 1659.4,1090.3 1810.0,992.8 1960.7,725.1 2111.4,814.6"/><polyline class="c2" points="454.0,360.4 604.7,841.8 755.3,885.2 906.0,1209.7 1056.7,1337.3 1207.4,421.8 1358.0,986.3 1508.7,569.2 1659.4,1182.6 1810.0,1197.1 1960.7,805.7 2111.4,774.2"/><polyline class="c3" points="454.0,223.1 604.7,962.1 755.3,885.6 906.0,1315.4 1056.7,1336.5 1207.4,346.6 1358.0,1118.7 1508.7,701.1 1659.4,1222.3 1810.0,1188.6 1960.7,916.0 2111.4,869.1"/><polyline class="c4" points="454.0,306.7 604.7,967.9 755.3,847.4 906.0,1064.4 1056.7,1218.1 1207.4,268.5 1358.0,445.0 1508.7,1228.2 1659.4,1198.3 1810.0,824.4 1960.7,644.5 2111.4,898.4"/><polyline class="c5" points="454.0,504.5 604.7,861.0 755.3,792.7 906.0,1054.0 1056.7,1273.6 1207.4,372.1 1358.0,424.4 1508.7,1192.1 1659.4,1036.2 1810.0,908.5 1960.7,640.9 2111.4,579.1"/><polyline class="c6" points="454.0,238.6 604.7,702.3 755.3,962.0 906.0,1162.6 1056.7,1420.4 1207.4,481.0 1358.0,1177.1 1508.7,785.0 1659.4,1276.4 1810.0,920.7 1960.7,731.5 2111.4,794.7"/><polyline class="c0" points="454.0,445.2 604.7,816.9 755.3,758.6 906.0,946.1 1056.7,906.7 1207.4,184.1 1358.0,310.9 1508.7,1209.6 1659.4,1187.6 1810.0,1149.4 1960.7,712.5 2111.4,820.1"/><polyline class="c1" points="454.0,461.0 604.7,779.0 755.3,647.7 906.0,1097.9 1056.7,1029.9 1207.4,577.0 1358.0,1205.4 1508.7,888.9 1659.4,1099.2 1810.0,962.7 1960.7,741.1 2111.4,731.5"/><polyline class="c2" points="454.0,605.6 604.7,870.2 755.3,698.4 906.0,1251.1 1056.7,1059.6 1207.4,226.8 1358.0,294.0 1508.7,1125.5 1659.4,1214.6 1810.0,982.4 1960.7,813.0 2111.4,978.9"/><polyline class="c3" points="454.0,565.4 604.7,657.3 755.3,700.7 906.0,1029.2 1056.7,995.1 1207.4,286.2 1358.0,342.7 1508.7,1159.0 1659.4,1114.3 1810.0,826.1 1960.7,537.4 2111.4,818.1"/><polyline class="c4" points="454.0,396.9 604.7,712.1 755.3,748.1 906.0,1177.8 1056.7,1358.1 1207.4,499.4 1358.0,438.9 1508.7,1214.3 1659.4,1361.7 1810.0,1211.4 1960.7,752.2 2111.4,810.9"/><polyline class="c5" points="454.0,556.2 604.7,673.0 755.3,940.1 906.0,1208.8 1056.7,1086.0 1207.4,529.2 1358.0,371.3 1508.7,1341.5 1659.4,1057.6 1810.0,734.8 1960.7,652.3 2111.4,835.6"/><polyline class="c6" points="454.0,501.0 604.7,763.8 755.3,873.7 906.0,1231.4 1056.7,1366.9 1207.4,425.3 1358.0,351.9 1508.7,1120.3 1659.4,1123.1 1810.0,1128.5 1960.7,799.4 2111.4,871.2"/><polyline class="c0" points="454.0,331.3 604.7,802.8 755.3,794.4 906.0,1149.3 1056.7,1218.0 1207.4,407.4 1358.0,958.7 1508.7,717.6 1659.4,1148.6 1810.0,1151.9 1960.7,833.9 2111.4,879.8"/><polyline class="c1" points="454.0,617.1 604.7,790.0 755.3,789.2 906.0,1243.3 1056.7,1380.8 1207.4,368.1 1358.0,988.9 1508.7,914.4 1659.4,1335.5 1810.0,1226.1 1960.7,832.1 2111.4,891.2"/><polyline class="c2" points="454.0,499.9 604.7,866.0 755.3,696.0 906.0,1179.1 1056.7,1304.8 1207.4,387.3 1358.0,584.9 1508.7,1408.8 1659.4,1237.4 1810.0,1151.0 1960.7,878.9 2111.4,609.8"/><polyline class="c3" points="454.0,389.2 604.7,871.1 755.3,859.2 906.0,1237.7 1056.7,1107.5 1207.4,481.4 1358.0,412.7 1508.7,1245.8 1659.4,1301.8 1810.0,1063.9 1960.7,760.8 2111.4,552.8"/><polyline class="c4" points="454.0,434.0 604.7,864.5 755.3,914.7 906.0,1261.7 1056.7,1207.1 1207.4,525.9 1358.0,995.7 1508.7,668.8 1659.4,1117.0 1810.0,924.4 1960.7,506.6 2111.4,844.6"/><polyline class="c5" points="454.0,470.6 604.7,897.0 755.3,733.5 906.0,1347.7 1056.7,1152.8 1207.4,325.8 1358.0,1034.6 1508.7,744.0 1659.4,1148.6 1810.0,880.9 1960.7,580.6 2111.4,821.8"/><polyline class="c6" points="454.0,558.0 604.7,829.6 755.3,1074.6 906.0,1078.6 1056.7,1179.5 1207.4,537.9 1358.0,1039.6 1508.7,847.5 1659.4,1281.4 1810.0,1257.2 1960.7,897.8 2111.4,717.6"/><polyline class="c0" points="454.0,380.8 604.7,891.2 755.3,778.4 906.0,1323.9 1056.7,1380.9 1207.4,309.5 1358.0,174.0 1508.7,1094.0 1659.4,1240.7 1810.0,1029.7 1960.7,599.1 2111.4,1061.1"/><polyline class="c1" points="454.0,629.8 604.7,690.9 755.3,658.9 906.0,1091.7 1056.7,997.4 1207.4,210.4 1358.0,379.6 1508.7,1168.7 1659.4,993.8 1810.0,836.0 1960.7,634.8 2111.4,917.7"/><polyline class="c2" points="454.0,383.6 604.7,745.0 755.3,964.5 906.0,1096.2 1056.7,1145.6 1207.4,428.7 1358.0,925.3 1508.7,696.8 1659.4,1057.6 1810.0,916.7 1960.7,727.9 2111.4,754.4"/><polyline class="c3" points="454.0,575.0 604.7,974.7 755.3,988.2 906.0,1092.3 1056.7,1266.2 1207.4,339.5 1358.0,895.5 1508.7,790.8 1659.4,1036.8 1810.0,958.0 1960.7,697.9 2111.4,589.8"/><polyline class="c4" points="454.0,593.0 604.7,873.6 755.3,933.3 906.0,1143.0 1056.7,1290.3 1207.4,429.6 1358.0,953.8 1508.7,884.5 1659.4,1226.9 1810.0,1108.6 1960.7,724.3 2111.4,1138.2"/><polyline class="c5" points="454.0,487.7 604.7,670.4 755.3,897.4 906.0,1304.5 1056.7,1314.0 1207.4,359.3 1358.0,1060.6 1508.7,758.1 1659.4,1329.9 1810.0,965.6 1960.7,716.5 2111.4,786.9"/><polyline class="c6" points="454.0,509.2 604.7,977.4 755.3,996.1 906.0,993.9 1056.7,1168.6 1207.4,429.7 1358.0,433.6 1508.7,1261.1 1659.4,1035.6 1810.0,869.3 1960.7,610.9 2111.4,757.7"/><polyline class="c0" points="454.0,588.5 604.7,667.9 755.3,559.1 906.0,1137.2 1056.7,1156.8 1207.4,260.8 1358.0,1057.5 1508.7,795.3 1659.4,1291.6 1810.0,1263.2 1960.7,811.6 2111.4,820.6"/><polyline class="c1" points="454.0,332.6 604.7,897.5 755.3,684.9 906.0,1112.9 1056.7,1027.8 1207.4,180.6 1358.0,323.6 1508.7,1248.0 1659.4,1136.2 1810.0,889.3 1960.7,566.7 2111.4,1134.6"/><polyline class="c2" points="454.0,492.8 604.7,775.5 755.3,966.9 906.0,1285.1 1056.7,1209.1 1207.4,555.3 1358.0,380.7 1508.7,1274.6 1659.4,1133.4 1810.0,1007.0 1960.7,754.7 2111.4,599.3"/><polyline class="c3" points="454.0,332.9 604.7,984.2 755.3,866.6 906.0,1198.7 1056.7,1079.5 1207.4,287.7 1358.0,199.4 1508.7,1016.9 1659.4,1004.3 1810.0,975.8 1960.7,769.7 2111.4,807.2"/><polyline class="c4" points="454.0,353.2 604.7,775.5 755.3,836.1 906.0,1160.8 1056.7,1296.0 1207.4,513.7 1358.0,587.2 1508.7,1293.7 1659.4,1083.8 1810.0,1017.5 1960.7,721.9 2111.4,713.6"/><polyline class="c5" points="454.0,194.8 604.7,697.0 755.3,832.2 906.0,1346.4 1056.7,1281.1 1207.4,265.8 1358.0,965.2 1508.7,608.0 1659.4,1117.5 1810.0,1027.1 1960.7,730.6 2111.4,951.9"/><polyline class="c6" points="454.0,559.0 604.7,1024.6 755.3,820.7 906.0,1187.3 1056.7,1246.6 1207.4,437.7 1358.0,958.0 1508.7,794.1 1659.4,1018.3 1810.0,829.0 1960.7,682.2 2111.4,864.3"/><polyline class="c0" points="454.0,262.9 604.7,865.2 755.3,890.1 906.0,948.0 1056.7,971.9 1207.4,203.0 1358.0,775.8 1508.7,585.5 1659.4,1073.0 1810.0,1175.4 1960.7,710.0 2111.4,1028.1"/><polyline class="c1" points="454.0,629.9 604.7,947.9 755.3,865.4 906.0,1312.5 1056.7,1370.9 1207.4,529.6 1358.0,1070.4 1508.7,899.0 1659.4,1295.8 1810.0,969.5 1960.7,572.6 2111.4,581.6"/><polyline class="c2" points="454.0,487.4 604.7,793.3 755.3,730.2 906.0,1121.2 1056.7,981.4 1207.4,316.2 1358.0,1005.3 1508.7,892.3 1659.4,1304.5 1810.0,991.9 1960.7,693.5 2111.4,690.6"/><polyline class="c3" points="454.0,290.6 604.7,879.9 755.3,776.9 906.0,1079.8 1056.7,998.6 1207.4,186.5 1358.0,925.0 1508.7,839.9 1659.4,1294.6 1810.0,974.2 1960.7,777.4 2111.4,1044.3"/><polyline class="c4" points="454.0,591.8 604.7,780.1 755.3,891.7 906.0,1246.7 1056.7,1061.4 1207.4,218.9 1358.0,242.6 1508.7,1186.2 1659.4,1335.6 1810.0,1123.4 1960.7,604.2 2111.4,921.4"/><polyline class="c5" points="454.0,664.5 604.7,737.0 755.3,811.1 906.0,1340.8 1056.7,1319.5 1207.4,476.5 1358.0,1003.2 1508.7,568.6 1659.4,1090.7 1810.0,977.8 1960.7,726.5 2111.4,936.3"/><polyline class="c6" points="454.0,243.1 604.7,714.1 755.3,829.2 906.0,1103.1 1056.7,1150.5 1207.4,245.3 1358.0,994.4 1508.7,718.7 1659.4,983.0 1810.0,907.1 1960.7,579.9 2111.4,865.7"/><polyline class="c0" points="454.0,532.9 604.7,613.9 755.3,636.1 906.0,1004.0 1056.7,979.0 1207.4,356.9 1358.0,1070.9 1508.7,788.5 1659.4,1342.5 1810.0,1233.5 1960.7,759.1 2111.4,1123.0"/><polyline class="c1" points="454.0,441.7 604.7,833.5 755.3,827.5 906.0,1258.7 1056.7,1109.0 1207.4,567.1 1358.0,1073.7 1508.7,915.3 1659.4,1339.4 1810.0,1174.7 1960.7,647.0 2111.4,1013.3"/><polyline class="c2" points="454.0,289.7 604.7,791.1 755.3,807.2 906.0,1096.7 1056.7,1022.9 1207.4,257.7 1358.0,615.1 1508.7,1364.8 1659.4,1205.6 1810.0,1190.0 1960.7,873.0 2111.4,650.8"/><polyline class="c3" points="454.0,554.0 604.7,784.3 755.3,790.1 906.0,1311.3 1056.7,1330.2 1207.4,554.9 1358.0,1144.4 1508.7,794.5 1659.4,1320.5 1810.0,1241.5 1960.7,803.6 2111.4,977.5"/><polyline class="c4" points="454.0,464.8 604.7,847.2 755.3,783.0 906.0,1215.9 1056.7,1364.8 1207.4,484.7 1358.0,959.1 1508.7,628.1 1659.4,1080.1 1810.0,844.2 1960.7,575.3 2111.4,1054.9"/><polyline class="c5" points="454.0,197.0 604.7,687.1 755.3,964.7 906.0,1003.1 1056.7,1042.0 1207.4,290.9 1358.0,1134.0 1508.7,824.0 1659.4,1249.6 1810.0,1129.6 1960.7,800.3 2111.4,627.5"/><polyline class="c6" points="454.0,359.8 604.7,1000.2 755.3,1005.5 906.0,1185.5 1056.7,1369.9 1207.4,423.9 1358.0,432.2 1508.7,1241.1 1659.4,1201.9 1810.0,991.6 1960.7,820.2 2111.4,853.2"/><polyline class="c0" points="454.0,488.5 604.7,676.5 755.3,721.9 906.0,1184.9 1056.7,1210.8 1207.4,213.8 1358.0,342.8 1508.7,1296.9 1659.4,1112.2 1810.0,924.2 1960.7,592.4 2111.4,1095.1"/><polyline class="c1" points="454.0,414.1 604.7,844.5 755.3,880.7 906.0,1113.2 1056.7,1207.0 1207.4,354.4 1358.0,846.4 1508.7,644.8 1659.4,1213.8 1810.0,1172.9 1960.7,851.3 2111.4,1056.8"/><polyline class="c2" points="454.0,223.7 604.7,823.5 755.3,718.3 906.0,1244.8 1056.7,1363.9 1207.4,599.9 1358.0,1125.2 1508.7,687.0 1659.4,993.5 1810.0,859.4 1960.7,665.3 2111.4,629.2"/><polyline class="c3" points="454.0,536.6 604.7,814.9 755.3,823.1 906.0,1242.7 1056.7,1418.3 1207.4,552.1 1358.0,477.9 1508.7,1258.9 1659.4,1145.9 1810.0,875.3 1960.7,709.4 2111.4,1045.8"/><polyline class="c4" points="454.0,365.1 604.7,867.0 755.3,1019.0 906.0,1073.3 1056.7,975.3 1207.4,235.7 1358.0,880.6 1508.7,806.4 1659.4,1336.6 1810.0,1145.8 1960.7,753.4 2111.4,836.1"/><polyline class="c5" points="454.0,517.7 604.7,687.2 755.3,865.9 906.0,1187.1 1056.7,1051.8 1207.4,405.6 1358.0,1014.6 1508.7,1200.9 1659.4,1402.4 1810.0,1245.5 1960.7,856.3 2111.4,914.3"/><polyline class="c6" points="454.0,434.1 604.7,885.1 755.3,741.3 906.0,1081.1 1056.7,1015.3 1207.4,205.7 1358.0,849.2 1508.7,706.1 1659.4,1100.2 1810.0,968.1 1960.7,657.3 2111.4,769.1"/><polyline class="c0" points="454.0,489.0 604.7,842.3 755.3,949.0 906.0,1285.4 1056.7,1147.9 1207.4,362.0 1358.0,999.9 1508.7,786.4 1659.4,1339.7 1810.0,1201.7 1960.7,661.6 2111.4,852.9"/><polyline class="c1" points="454.0,324.8 604.7,849.8 755.3,896.8 906.0,1333.6 1056.7,1471.2 1207.4,477.9 1358.0,431.6 1508.7,1253.2 1659.4,1074.1 1810.0,1040.3 1960.7,717.9 2111.4,980.7"/><polyline class="c2" points="454.0,533.9 604.7,734.8 755.3,710.5 906.0,1276.5 1056.7,1320.3 1207.4,388.3 1358.0,1087.5 1508.7,715.5 1659.4,1226.4 1810.0,1118.5 1960.7,785.7 2111.4,1090.9"/><polyline class="c3" points="454.0,548.8 604.7,715.8 755.3,717.1 906.0,1100.6 1056.7,1298.0 1207.4,447.5 1358.0,432.2 1508.7,1235.0 1659.4,1332.2 1810.0,1215.8 1960.7,871.7 2111.4,581.3"/><polyline class="c4" points="454.0,543.6 604.7,753.6 755.3,847.7 906.0,1053.4 1056.7,1332.6 1207.4,222.7 1358.0,326.5 1508.7,1184.9 1659.4,1172.2 1810.0,844.4 1960.7,483.4 2111.4,1022.7"/><polyline class="c5" points="454.0,638.1 604.7,1011.5 755.3,951.4 906.0,1195.9 1056.7,1001.2 1207.4,225.0 1358.0,319.5 1508.7,1261.2 1659.4,944.1 1810.0,799.5 1960.7,489.6 2111.4,1127.2"/><polyline class="c6" points="454.0,265.0 604.7,541.3 755.3,1111.8 906.0,1153.1 1056.7,1268.8 1207.4,547.1 1358.0,542.7 1508.7,1384.8 1659.4,1210.4 1810.0,1206.9 1960.7,786.2 2111.4,868.3"/><polyline class="c0" points="454.0,539.5 604.7,989.9 755.3,1038.8 906.0,1156.6 1056.7,880.2 1207.4,243.4 1358.0,1000.8 1508.7,601.9 1659.4,990.9 1810.0,796.8 1960.7,579.7 2111.4,773.4"/><polyline class="c1" points="454.0,578.2 604.7,838.9 755.3,950.7 906.0,1104.7 1056.7,1483.6 1207.4,646.0 1358.0,617.6 1508.7,1352.5 1659.4,986.0 1810.0,1022.4 1960.7,663.4 2111.4,1117.6"/><polyline class="c2" points="454.0,656.7 604.7,750.9 755.3,848.6 906.0,1353.2 1056.7,1409.9 1207.4,360.1 1358.0,433.2 1508.7,1331.6 1659.4,1187.5 1810.0,1075.3 1960.7,667.7 2111.4,730.3"/><polyline class="c3" points="454.0,555.2 604.7,864.6 755.3,869.5 906.0,1156.1 1056.7,1396.1 1207.4,446.3 1358.0,574.9 1508.7,871.1 1659.4,543.1 1810.0,904.1 1960.7,877.5 2111.4,606.6"/><polyline class="c4" points="454.0,517.7 604.7,869.1 755.3,805.0 906.0,1246.5 1056.7,1362.0 1207.4,584.9 1358.0,1043.9 1508.7,817.7 1659.4,1281.5 1810.0,1272.9 1960.7,915.8 2111.4,624.0"/><polyline class="c5" points="454.0,581.8 604.7,871.2 755.3,778.6 906.0,1328.6 1056.7,1376.8 1207.4,361.0 1358.0,282.8 1508.7,1295.2 1659.4,1324.2 1810.0,1037.6 1960.7,765.9 2111.4,752.9"/><polyline class="c6" points="454.0,283.0 604.7,750.0 755.3,669.8 906.0,1278.7 1056.7,1374.2 1207.4,568.1 1358.0,1175.6 1508.7,986.9 1659.4,1327.4 1810.0,1234.5 1960.7,850.5 2111.4,935.7"/><polyline class="c0" points="454.0,333.8 604.7,727.5 755.3,712.1 906.0,1197.6 1056.7,1145.9 1207.4,379.8 1358.0,550.9 1508.7,1393.7 1659.4,1256.7 1810.0,1094.3 1960.7,615.7 2111.4,977.0"/><polyline class="c1" points="454.0,618.7 604.7,912.9 755.3,648.1 906.0,1205.7 1056.7,1397.0 1207.4,565.0 1358.0,929.0 1508.7,604.2 1659.4,1125.3 1810.0,1089.3 1960.7,933.2 2111.4,781.9"/><polyline class="c2" points="454.0,633.4 604.7,782.2 755.3,749.4 906.0,994.9 1056.7,1251.5 1207.4,350.2 1358.0,257.7 1508.7,1104.1 1659.4,1034.8 1810.0,1008.3 1960.7,731.0 2111.4,937.8"/><polyline class="c3" points="454.0,434.5 604.7,861.4 755.3,1062.8 906.0,1340.8 1056.7,1334.2 1207.4,281.5 1358.0,491.3 1508.7,1333.2 1659.4,1211.2 1810.0,969.8 1960.7,564.0 2111.4,834.7"/><polyline class="c4" points="454.0,551.6 604.7,814.7 755.3,861.4 906.0,1161.4 1056.7,1373.7 1207.4,308.3 1358.0,439.5 1508.7,1374.2 1659.4,1228.6 1810.0,1203.2 1960.7,764.9 2111.4,604.0"/><polyline class="c5" points="454.0,462.7 604.7,936.4 755.3,930.8 906.0,964.8 1056.7,978.0 1207.4,365.3 1358.0,544.8 1508.7,1285.1 1659.4,1170.5 1810.0,1043.2 1960.7,671.1 2111.4,1038.5"/><polyline class="c6" points="454.0,290.4 604.7,750.0 755.3,827.1 906.0,1182.9 1056.7,1123.1 1207.4,282.6 1358.0,454.8 1508.7,1356.1 1659.4,1101.7 1810.0,1142.4 1960.7,591.7 2111.4,1061.7"/><polyline class="c0" points="454.0,280.2 604.7,659.1 755.3,742.0 906.0,1373.2 1056.7,1373.2 1207.4,619.6 1358.0,610.6 1508.7,1286.8 1659.4,1076.1 1810.0,973.5 1960.7,670.4 2111.4,719.7"/><polyline class="c1" points="454.0,485.5 604.7,701.5 755.3,723.1 906.0,1012.9 1056.7,1087.5 1207.4,260.4 1358.0,263.8 1508.7,1086.9 1659.4,921.5 1810.0,815.4 1960.7,654.5 2111.4,914.9"/><polyline class="c2" points="454.0,392.0 604.7,892.1 755.3,1000.5 906.0,1105.9 1056.7,977.1 1207.4,429.2 1358.0,306.3 1508.7,1166.3 1659.4,1266.8 1810.0,1180.7 1960.7,807.7 2111.4,528.1"/><polyline class="c3" points="454.0,242.0 604.7,832.5 755.3,706.8 906.0,1054.6 1056.7,1289.2 1207.4,458.5 1358.0,1009.9 1508.7,899.4 1659.4,1274.3 1810.0,1223.7 1960.7,826.1 2111.4,704.9"/><polyline class="c4" points="454.0,293.5 604.7,709.5 755.3,735.9 906.0,1181.8 1056.7,1317.5 1207.4,509.3 1358.0,1117.9 1508.7,849.1 1659.4,1288.5 1810.0,1103.6 1960.7,811.6 2111.4,1063.3"/><polyline class="c5" points="454.0,536.3 604.7,1010.9 755.3,1005.6 906.0,1228.0 1056.7,1287.7 1207.4,362.1 1358.0,852.6 1508.7,782.8 1659.4,1019.7 1810.0,930.9 1960.7,700.2 2111.4,1135.6"/><polyline class="c6" points="454.0,332.7 604.7,921.4 755.3,1026.2 906.0,1327.0 1056.7,1274.9 1207.4,379.0 1358.0,876.8 1508.7,721.5 1659.4,1062.3 1810.0,1118.1 1960.7,778.8 2111.4,619.6"/><polyline class="c0" points="454.0,351.0 604.7,953.4 755.3,985.9 906.0,1249.3 1056.7,1418.5 1207.4,523.4 1358.0,953.7 1508.7,736.7 1659.4,1130.4 1810.0,842.3 1960.7,630.4 2111.4,877.6"/><polyline class="c1" points="454.0,276.4 604.7,687.5 755.3,626.0 906.0,952.5 1056.7,1347.7 1207.4,323.1 1358.0,823.3 1508.7,612.9 1659.4,1041.9 1810.0,1096.9 1960.7,647.8 2111.4,1026.8"/><polyline class="c2" points="454.0,475.1 604.7,772.8 755.3,851.6 906.0,1219.1 1056.7,1063.9 1207.4,290.9 1358.0,265.0 1508.7,1203.8 1659.4,976.8 1810.0,842.7 1960.7,540.4 2111.4,733.5"/><polyline class="c3" points="454.0,652.3 604.7,784.9 755.3,861.5 906.0,1218.4 1056.7,1372.5 1207.4,499.9 1358.0,1041.8 1508.7,672.1 1659.4,1137.0 1810.0,1230.1 1960.7,776.2 2111.4,736.9"/><polyline class="c4" points="454.0,591.5 604.7,998.0 755.3,746.1 906.0,1232.8 1056.7,1044.3 1207.4,307.6 1358.0,903.8 1508.7,776.7 1659.4,1314.0 1810.0,1161.6 1960.7,911.2 2111.4,995.4"/><polyline class="c5" points="454.0,242.1 604.7,740.9 755.3,989.4 906.0,1302.0 1056.7,1251.8 1207.4,388.1 1358.0,826.5 1508.7,542.4 1659.4,993.6 1810.0,744.8 1960.7,643.3 2111.4,1019.8"/><polyline class="c6" points="454.0,569.3 604.7,923.4 755.3,682.3 906.0,1201.7 1056.7,1009.5 1207.4,218.5 1358.0,957.2 1508.7,652.7 1659.4,985.3 1810.0,827.6 1960.7,693.2 2111.4,655.4"/><polyline class="c0" points="454.0,473.0 604.7,823.5 755.3,713.9 906.0,997.6 1056.7,1364.2 1207.4,497.6 1358.0,1076.5 1508.7,823.4 1659.4,1180.1 1810.0,978.2 1960.7,633.0 2111.4,912.5"/><polyline class="c1" points="454.0,581.9 604.7,885.5 755.3,678.0 906.0,1046.1 1056.7,1033.5 1207.4,201.9 1358.0,310.4 1508.7,1174.7 1659.4,995.4 1810.0,768.3 1960.7,691.9 2111.4,916.1"/><polyline class="c2" points="454.0,291.3 604.7,924.0 755.3,741.2 906.0,1234.4 1056.7,1113.7 1207.4,274.5 1358.0,228.8 1508.7,1180.1 1659.4,1057.2 1810.0,1000.7 1960.7,760.3 2111.4,631.6"/><polyline class="c3" points="454.0,220.4 604.7,563.6 755.3,673.2 906.0,1092.0 1056.7,908.3 1207.4,199.2 1358.0,399.2 1508.7,1207.7 1659.4,1183.4 1810.0,1124.1 1960.7,740.2 2111.4,705.5"/><polyline class="c4" points="454.0,565.2 604.7,680.5 755.3,793.8 906.0,1331.0 1056.7,1413.7 1207.4,440.7 1358.0,557.1 1508.7,1297.8 1659.4,1294.2 1810.0,1008.5 1960.7,690.1 2111.4,874.6"/><polyline class="c5" points="454.0,559.4 604.7,873.3 755.3,769.8 906.0,1115.8 1056.7,1189.7 1207.4,252.5 1358.0,410.6 1508.7,1249.5 1659.4,1277.0 1810.0,1121.8 1960.7,860.6 2111.4,991.9"/><polyline class="c6" points="454.0,570.0 604.7,769.5 755.3,698.8 906.0,1087.3 1056.7,1060.7 1207.4,244.7 1358.0,550.0 1508.7,1381.2 1659.4,1179.4 1810.0,1173.2 1960.7,847.9 2111.4,778.1"/><polyline class="c0" points="454.0,611.0 604.7,877.6 755.3,744.6 906.0,1114.5 1056.7,977.9 1207.4,295.1 1358.0,245.4 1508.7,983.5 1659.4,984.6 1810.0,819.4 1960.7,544.2 2111.4,1152.7"/><polyline class="c1" points="454.0,279.5 604.7,932.5 755.3,825.6 906.0,1102.0 1056.7,995.7 1207.4,272.5 1358.0,487.8 1508.7,1441.6 1659.4,1245.5 1810.0,980.5 1960.7,743.5 2111.4,735.2"/><polyline class="c2" points="454.0,389.7 604.7,815.9 755.3,890.6 906.0,1045.4 1056.7,1290.6 1207.4,422.3 1358.0,1061.4 1508.7,665.2 1659.4,1198.3 1810.0,1158.9 1960.7,762.6 2111.4,792.5"/><polyline class="c3" points="454.0,555.0 604.7,932.6 755.3,857.2 906.0,1275.1 1056.7,973.8 1207.4,231.4 1358.0,233.8 1508.7,1082.4 1659.4,1077.3 1810.0,898.7 1960.7,691.5 2111.4,1109.7"/><polyline class="c4" points="454.0,337.8 604.7,748.6 755.3,882.4 906.0,1016.6 1056.7,1311.5 1207.4,383.0 1358.0,1017.5 1508.7,799.2 1659.4,1245.3 1810.0,1117.1 1960.7,744.4 2111.4,759.5"/><polyline class="c5" points="454.0,431.4 604.7,1026.8 755.3,754.6 906.0,1079.9 1056.7,1385.7 1207.4,539.0 1358.0,735.0 1508.7,1432.6 1659.4,1342.9 1810.0,988.6 1960.7,666.1 2111.4,1229.5"/><polyline class="c6" points="454.0,340.7 604.7,802.6 755.3,910.8 906.0,1245.7 1056.7,1139.9 1207.4,369.6 1358.0,645.8 1508.7,1328.5 1659.4,1162.6 1810.0,879.5 1960.7,644.1 2111.4,837.1"/><polyline class="c0" points="454.0,540.2 604.7,815.5 755.3,877.2 906.0,1294.8 1056.7,978.1 1207.4,133.9 1358.0,202.6 1508.7,1159.0 1659.4,900.2 1810.0,864.8 1960.7,544.4 2111.4,882.5"/><polyline class="c1" points="454.0,309.5 604.7,887.7 755.3,853.1 906.0,1087.5 1056.7,1405.8 1207.4,554.1 1358.0,1126.5 1508.7,806.3 1659.4,1125.1 1810.0,1162.1 1960.7,658.5 2111.4,709.3"/><polyline class="c2" points="454.0,630.0 604.7,854.3 755.3,926.9 906.0,1089.1 1056.7,1201.8 1207.4,403.2 1358.0,550.1 1508.7,1330.0 1659.4,1104.8 1810.0,1185.4 1960.7,856.9 2111.4,810.5"/><polyline class="c3" points="454.0,498.4 604.7,814.4 755.3,809.1 906.0,1359.6 1056.7,1158.8 1207.4,507.7 1358.0,312.7 1508.7,1118.6 1659.4,1329.4 1810.0,1144.5 1960.7,653.7 2111.4,611.9"/><polyline class="c4" points="454.0,538.5 604.7,711.6 755.3,964.1 906.0,1332.8 1056.7,1173.3 1207.4,488.2 1358.0,1015.9 1508.7,855.6 1659.4,1301.9 1810.0,1000.1 1960.7,709.4 2111.4,703.4"/><polyline class="c5" points="454.0,495.3 604.7,917.3 755.3,970.7 906.0,1130.3 1056.7,1128.7 1207.4,200.8 1358.0,267.8 1508.7,1173.7 1659.4,1072.5 1810.0,825.8 1960.7,746.3 2111.4,573.0"/><polyline class="c6" points="454.0,541.5 604.7,633.2 755.3,646.4 906.0,1210.8 1056.7,1095.5 1207.4,206.8 1358.0,854.0 1508.7,582.4 1659.4,992.2 1810.0,858.9 1960.7,741.8 2111.4,1002.1"/><polyline class="c0" points="454.0,595.0 604.7,787.5 755.3,817.0 906.0,1021.1 1056.7,1011.9 1207.4,309.3 1358.0,706.5 1508.7,1426.8 1659.4,1262.0 1810.0,862.2 1960.7,642.6 2111.4,731.5"/><polyline class="c1" points="454.0,655.8 604.7,845.9 755.3,857.0 906.0,1328.7 1056.7,1181.0 1207.4,343.9 1358.0,177.1 1508.7,1201.1 1659.4,1246.6 1810.0,1091.9 1960.7,777.0 2111.4,680.4"/><polyline class="c2" points="454.0,353.0 604.7,791.2 755.3,887.6 906.0,1149.4 1056.7,1060.3 1207.4,274.5 1358.0,1132.1 1508.7,650.7 1659.4,1144.2 1810.0,926.4 1960.7,712.9 2111.4,632.9"/><polyline class="c3" points="454.0,245.9 604.7,657.4 755.3,818.3 906.0,1376.7 1056.7,1313.2 1207.4,520.4 1358.0,991.3 1508.7,694.0 1659.4,1165.0 1810.0,1147.1 1960.7,846.7 2111.4,573.7"/><polyline class="c4" points="454.0,458.3 604.7,786.0 755.3,705.4 906.0,1176.0 1056.7,1450.0 1207.4,294.4 1358.0,1004.1 1508.7,794.3 1659.4,1196.6 1810.0,1166.1 1960.7,867.8 2111.4,718.3"/><polyline class="c5" points="454.0,359.2 604.7,753.4 755.3,634.0 906.0,1171.7 1056.7,1203.5 1207.4,414.6 1358.0,926.2 1508.7,650.9 1659.4,1048.7 1810.0,774.6 1960.7,569.7 2111.4,810.2"/><polyline class="c6" points="454.0,618.1 604.7,941.7 755.3,847.5 906.0,1295.8 1056.7,1409.1 1207.4,357.8 1358.0,1054.6 1508.7,815.7 1659.4,1247.4 1810.0,1202.3 1960.7,726.0 2111.4,591.8"/><polyline class="c0" points="454.0,242.3 604.7,980.3 755.3,769.7 906.0,1174.2 1056.7,998.3 1207.4,324.8 1358.0,282.3 1508.7,1026.3 1659.4,1002.3 1810.0,909.7 1960.7,673.5 2111.4,723.1"/><polyline class="c1" points="454.0,575.7 604.7,778.0 755.3,651.1 906.0,1089.8 1056.7,1002.8 1207.4,192.8 1358.0,277.1 1508.7,1160.7 1659.4,1226.3 1810.0,1049.7 1960.7,672.9 2111.4,995.5"/><polyline class="c2" points="454.0,273.6 604.7,846.0 755.3,736.0 906.0,1102.4 1056.7,1231.5 1207.4,255.8 1358.0,891.1 1508.7,680.5 1659.4,1094.0 1810.0,945.8 1960.7,625.2 2111.4,748.1"/><polyline class="c3" points="454.0,489.4 604.7,676.1 755.3,761.7 906.0,1172.2 1056.7,999.8 1207.4,203.4 1358.0,1054.5 1508.7,755.6 1659.4,1078.2 1810.0,910.3 1960.7,803.3 2111.4,903.3"/><polyline class="c4" points="454.0,322.8 604.7,692.8 755.3,721.6 906.0,1149.3 1056.7,1332.4 1207.4,273.7 1358.0,1133.1 1508.7,752.2 1659.4,1092.3 1810.0,953.4 1960.7,674.0 2111.4,784.1"/><polyline class="c5" points="454.0,512.1 604.7,745.6 755.3,782.0 906.0,1140.1 1056.7,1480.8 1207.4,624.9 1358.0,1143.6 1508.7,889.5 1659.4,1155.2 1810.0,1189.3 1960.7,682.0 2111.4,673.1"/><polyline class="c6" points="454.0,490.2 604.7,962.1 755.3,1003.5 906.0,1263.1 1056.7,1254.9 1207.4,286.0 1358.0,276.1 1508.7,1069.9 1659.4,979.5 1810.0,983.6 1960.7,737.4 2111.4,621.8"/><polyline class="c0" points="454.0,278.5 604.7,764.1 755.3,961.9 906.0,1116.1 1056.7,1148.3 1207.4,416.0 1358.0,1176.4 1508.7,822.6 1659.4,1163.6 1810.0,941.7 1960.7,632.0 2111.4,968.8"/><polyline class="c1" points="454.0,435.7 604.7,706.3 755.3,779.3 906.0,1298.4 1056.7,1459.0 1207.4,646.3 1358.0,581.3 1508.7,1288.8 1659.4,1374.0 1810.0,1236.7 1960.7,703.3 2111.4,1125.4"/><polyline class="c2" points="454.0,265.3 604.7,682.9 755.3,704.3 906.0,1085.9 1056.7,1063.7 1207.4,185.2 1358.0,400.8 1508.7,1366.3 1659.4,1375.8 1810.0,1183.9 1960.7,694.2 2111.4,944.0"/><polyline class="c3" points="454.0,381.4 604.7,681.6 755.3,683.4 906.0,1091.7 1056.7,1288.0 1207.4,424.9 1358.0,951.5 1508.7,688.0 1659.4,985.9 1810.0,982.3 1960.7,602.6 2111.4,876.6"/><polyline class="c4" points="454.0,612.9 604.7,789.5 755.3,903.5 906.0,1021.6 1056.7,1008.6 1207.4,325.0 1358.0,861.2 1508.7,559.5 1659.4,864.3 1810.0,733.8 1960.7,575.0 2111.4,612.3"/><polyline class="c5" points="454.0,461.7 604.7,775.5 755.3,986.6 906.0,1023.6 1056.7,1037.7 1207.4,281.8 1358.0,617.2 1508.7,1382.3 1659.4,1101.6 1810.0,913.8 1960.7,736.6 2111.4,1031.5"/><polyline class="c6" points="454.0,571.7 604.7,1007.2 755.3,721.7 906.0,1144.1 1056.7,1134.3 1207.4,337.1 1358.0,270.3 1508.7,1071.6 1659.4,1107.6 1810.0,1051.1 1960.7,753.9 2111.4,638.2"/><polyline class="c0" points="454.0,575.8 604.7,702.8 755.3,762.7 906.0,1091.8 1056.7,971.8 1207.4,213.7 1358.0,850.0 1508.7,655.7 1659.4,1023.4 1810.0,839.3 1960.7,588.3 2111.4,862.4"/><polyline class="c1" points="454.0,455.9 604.7,786.3 755.3,854.7 906.0,1093.7 1056.7,1253.6 1207.4,254.9 1358.0,938.9 1508.7,758.6 1659.4,1116.6 1810.0,1125.2 1960.7,519.6 2111.4,1010.3"/><polyline class="c2" points="454.0,248.4 604.7,821.3 755.3,920.3 906.0,1284.0 1056.7,1071.8 1207.4,418.7 1358.0,243.0 1508.7,1071.6 1659.4,1105.6 1810.0,863.1 1960.7,639.2 2111.4,885.0"/><polyline class="c3" points="454.0,596.5 604.7,834.6 755.3,1040.1 906.0,1337.7 1056.7,1461.7 1207.4,516.3 1358.0,631.6 1508.7,1369.6 1659.4,920.7 1810.0,855.8 1960.7,515.1 2111.4,868.4"/><polyline class="c4" points="454.0,510.4 604.7,918.4 755.3,805.4 906.0,1087.3 1056.7,1158.6 1207.4,381.4 1358.0,521.4 1508.7,1332.5 1659.4,1306.0 1810.0,1208.6 1960.7,595.4 2111.4,704.6"/><polyline class="c5" points="454.0,430.6 604.7,784.9 755.3,817.2 906.0,1252.1 1056.7,1206.4 1207.4,340.0 1358.0,331.4 1508.7,1106.2 1659.4,1193.1 1810.0,1047.6 1960.7,769.9 2111.4,970.5"/><polyline class="c6" points="454.0,402.7 604.7,884.5 755.3,968.6 906.0,1274.0 1056.7,1252.8 1207.4,234.5 1358.0,846.8 1508.7,801.5 1659.4,1241.8 1810.0,1034.6 1960.7,757.7 2111.4,834.7"/><polyline class="c0" points="454.0,407.7 604.7,834.5 755.3,933.6 906.0,1117.2 1056.7,1033.4 1207.4,240.6 1358.0,1045.4 1508.7,735.5 1659.4,1076.0 1810.0,856.9 1960.7,558.5 2111.4,712.2"/><polyline class="c1" points="454.0,353.6 604.7,726.1 755.3,773.8 906.0,1124.0 1056.7,1368.7 1207.4,394.9 1358.0,476.5 1508.7,1290.9 1659.4,982.1 1810.0,883.4 1960.7,627.2 2111.4,969.3"/><polyline class="c2" points="454.0,585.1 604.7,902.7 755.3,877.2 906.0,1348.1 1056.7,1407.9 1207.4,454.8 1358.0,561.8 1508.7,1347.0 1659.4,1188.5 1810.0,918.8 1960.7,641.9 2111.4,604.9"/><polyline class="c3" points="454.0,263.8 604.7,795.0 755.3,705.8 906.0,962.0 1056.7,982.8 1207.4,226.8 1358.0,210.7 1508.7,1115.1 1659.4,996.6 1810.0,879.7 1960.7,617.7 2111.4,966.0"/><polyline class="c4" points="454.0,373.0 604.7,808.9 755.3,778.0 906.0,1317.1 1056.7,1136.3 1207.4,349.2 1358.0,359.2 1508.7,1270.6 1659.4,1216.3 1810.0,1145.6 1960.7,664.3 2111.4,991.9"/><polyline class="c5" points="454.0,454.8 604.7,965.4 755.3,994.4 906.0,1159.0 1056.7,1169.4 1207.4,257.4 1358.0,918.0 1508.7,777.7 1659.4,1296.3 1810.0,1014.7 1960.7,879.8 2111.4,727.3"/><polyline class="c6" points="454.0,273.3 604.7,663.4 755.3,662.2 906.0,962.4 1056.7,1397.5 1207.4,485.8 1358.0,1035.0 1508.7,971.4 1659.4,1360.4 1810.0,1070.0 1960.7,789.8 2111.4,628.6"/><polyline class="c0" points="454.0,271.1 604.7,692.9 755.3,713.1 906.0,1073.7 1056.7,1324.1 1207.4,233.2 1358.0,532.4 1508.7,1455.0 1659.4,1290.1 1810.0,1163.1 1960.7,597.7 2111.4,542.1"/><polyline class="c1" points="454.0,553.2 604.7,795.3 755.3,774.8 906.0,1221.9 1056.7,1288.2 1207.4,327.7 1358.0,443.8 1508.7,1261.5 1659.4,1154.0 1810.0,1168.4 1960.7,806.5 2111.4,849.2"/><polyline class="c2" points="454.0,393.6 604.7,753.7 755.3,759.4 906.0,1150.5 1056.7,1184.1 1207.4,343.3 1358.0,1143.9 1508.7,809.3 1659.4,1269.4 1810.0,1129.7 1960.7,841.8 2111.4,927.6"/><polyline class="c3" points="454.0,483.5 604.7,816.6 755.3,781.3 906.0,1153.2 1056.7,1181.0 1207.4,402.5 1358.0,435.0 1508.7,1197.4 1659.4,1156.6 1810.0,962.0 1960.7,672.6 2111.4,643.6"/><polyline class="c4" points="454.0,371.5 604.7,724.9 755.3,550.2 906.0,1140.6 1056.7,1137.5 1207.4,324.1 1358.0,901.9 1508.7,648.5 1659.4,1105.8 1810.0,895.1 1960.7,617.0 2111.4,517.6"/><polyline class="c5" points="454.0,390.2 604.7,806.6 755.3,807.0 906.0,1351.4 1056.7,1296.5 1207.4,450.9 1358.0,982.4 1508.7,829.2 1659.4,1035.8 1810.0,961.9 1960.7,725.2 2111.4,747.8"/><polyline class="c6" points="454.0,565.4 604.7,785.1 755.3,841.9 906.0,1157.1 1056.7,1470.4 1207.4,620.2 1358.0,1198.4 1508.7,734.8 1659.4,1176.3 1810.0,901.9 1960.7,687.4 2111.4,654.2"/><polyline class="c0" points="454.0,502.9 604.7,861.5 755.3,831.0 906.0,1358.1 1056.7,1339.0 1207.4,534.1 1358.0,1133.5 1508.7,856.5 1659.4,1288.2 1810.0,1135.7 1960.7,680.5 2111.4,651.3"/><polyline class="c1" points="454.0,531.8 604.7,867.5 755.3,877.8 906.0,1233.0 1056.7,1155.9 1207.4,257.1 1358.0,967.6 1508.7,708.4 1659.4,1010.2 1810.0,960.7 1960.7,590.5 2111.4,858.2"/><polyline class="c2" points="454.0,225.3 604.7,810.4 755.3,770.9 906.0,1010.3 1056.7,1121.4 1207.4,210.8 1358.0,171.4 1508.7,955.8 1659.4,1030.8 1810.0,1043.2 1960.7,695.9 2111.4,911.1"/><polyline class="c3" points="454.0,310.9 604.7,709.3 755.3,966.4 906.0,1231.3 1056.7,1390.0 1207.4,350.0 1358.0,962.3 1508.7,623.0 1659.4,1065.1 1810.0,902.3 1960.7,592.0 2111.4,849.5"/><polyline class="c4" points="454.0,615.5 604.7,753.0 755.3,947.2 906.0,1212.1 1056.7,1184.3 1207.4,315.9 1358.0,558.5 1508.7,1306.0 1659.4,1376.0 1810.0,1217.9 1960.7,853.3 2111.4,568.2"/><polyline class="c5" points="454.0,528.2 604.7,925.1 755.3,960.6 906.0,1179.0 1056.7,1186.8 1207.4,210.7 1358.0,469.1 1508.7,1227.2 1659.4,1320.1 1810.0,1175.1 1960.7,688.0 2111.4,624.3"/><polyline class="c6" points="454.0,507.8 604.7,730.0 755.3,1067.2 906.0,1432.7 1056.7,1414.9 1207.4,413.1 1358.0,1007.4 1508.7,706.5 1659.4,1153.4 1810.0,1107.4 1960.7,704.0 2111.4,950.2"/><polyline class="c0" points="454.0,352.1 604.7,745.7 755.3,696.8 906.0,1035.9 1056.7,1041.6 1207.4,189.7 1358.0,442.0 1508.7,1240.7 1659.4,1123.8 1810.0,1040.1 1960.7,715.0 2111.4,735.7"/><polyline class="c1" points="454.0,214.5 604.7,609.6 755.3,754.0 906.0,1025.0 1056.7,1012.2 1207.4,242.8 1358.0,345.2 1508.7,1159.9 1659.4,1098.8 1810.0,1055.7 1960.7,645.7 2111.4,789.3"/><polyline class="c2" points="454.0,583.3 604.7,944.7 755.3,1091.8 906.0,1243.2 1056.7,1408.0 1207.4,376.3 1358.0,279.8 1508.7,1149.4 1659.4,1009.6 1810.0,1015.5 1960.7,812.5 2111.4,583.6"/><polyline class="c3" points="454.0,314.5 604.7,822.7 755.3,703.4 906.0,1074.3 1056.7,888.4 1207.4,448.3 1358.0,1131.4 1508.7,724.7 1659.4,1064.5 1810.0,935.7 1960.7,683.9 2111.4,938.9"/><polyline class="c4" points="454.0,270.2 604.7,732.5 755.3,736.9 906.0,975.8 1056.7,1283.7 1207.4,519.2 1358.0,480.2 1508.7,1352.5 1659.4,1082.9 1810.0,897.7 1960.7,591.4 2111.4,893.8"/><polyline class="c5" points="454.0,356.5 604.7,1007.5 755.3,1051.0 906.0,1302.5 1056.7,1440.6 1207.4,484.3 1358.0,600.0 1508.7,1288.9 1659.4,1187.4 1810.0,1214.2 1960.7,953.2 2111.4,529.3"/><polyline class="c6" points="454.0,359.8 604.7,859.5 755.3,953.5 906.0,1017.5 1056.7,1347.0 1207.4,467.4 1358.0,447.7 1508.7,1331.0 1659.4,1261.9 1810.0,933.5 1960.7,454.8 2111.4,933.5"/><polyline class="c0" points="454.0,289.9 604.7,884.8 755.3,906.0 906.0,1250.4 1056.7,1448.2 1207.4,498.5 1358.0,635.1 1508.7,1411.0 1659.4,1240.5 1810.0,1063.2 1960.7,800.4 2111.4,758.4"/><polyline class="c1" points="454.0,250.6 604.7,681.1 755.3,755.2 906.0,936.2 1056.7,1200.9 1207.4,386.7 1358.0,937.5 1508.7,670.3 1659.4,1052.9 1810.0,1069.3 1960.7,757.6 2111.4,740.9"/><polyline class="c2" points="454.0,343.0 604.7,988.9 755.3,661.0 906.0,978.1 1056.7,819.4 1207.4,398.7 1358.0,359.2 1508.7,1249.3 1659.4,975.1 1810.0,1032.9 1960.7,802.9 2111.4,942.9"/><polyline class="c3" points="454.0,194.4 604.7,748.7 755.3,906.0 906.0,1150.0 1056.7,1083.3 1207.4,208.2 1358.0,401.8 1508.7,1076.0 1659.4,1074.5 1810.0,1082.0 1960.7,804.0 2111.4,695.5"/><polyline class="c4" points="454.0,485.5 604.7,810.1 755.3,628.0 906.0,982.6 1056.7,1205.4 1207.4,432.3 1358.0,948.9 1508.7,804.7 1659.4,1357.8 1810.0,1247.0 1960.7,925.7 2111.4,1008.8"/><polyline class="c5" points="454.0,539.7 604.7,886.2 755.3,800.3 906.0,1228.7 1056.7,1435.9 1207.4,567.4 1358.0,1039.0 1508.7,869.4 1659.4,1339.6 1810.0,1122.3 1960.7,844.0 2111.4,948.9"/><polyline class="c6" points="454.0,447.5 604.7,888.1 755.3,889.8 906.0,1039.6 1056.7,1111.6 1207.4,392.1 1358.0,470.2 1508.7,1138.7 1659.4,1153.0 1810.0,994.6 1960.7,672.3 2111.4,925.0"/><polyline class="c0" points="454.0,557.2 604.7,881.5 755.3,709.1 906.0,1172.3 1056.7,983.5 1207.4,237.0 1358.0,274.6 1508.7,1144.4 1659.4,1236.2 1810.0,962.8 1960.7,568.8 2111.4,802.8"/><polyline class="c1" points="454.0,459.1 604.7,763.5 755.3,684.8 906.0,1034.9 1056.7,1115.2 1207.4,302.6 1358.0,345.3 1508.7,1219.7 1659.4,1285.0 1810.0,875.9 1960.7,718.7 2111.4,990.9"/><polyline class="c2" points="454.0,347.6 604.7,734.9 755.3,846.9 906.0,1167.2 1056.7,1085.7 1207.4,159.5 1358.0,221.6 1508.7,1078.9 1659.4,1015.9 1810.0,939.3 1960.7,741.5 2111.4,1091.1"/><polyline class="c3" points="454.0,601.3 604.7,731.8 755.3,847.6 906.0,1225.0 1056.7,1415.8 1207.4,566.3 1358.0,595.5 1508.7,1315.4 1659.4,1252.3 1810.0,1119.6 1960.7,810.5 2111.4,701.3"/><polyline class="c4" points="454.0,361.4 604.7,929.5 755.3,964.7 906.0,1325.2 1056.7,1185.8 1207.4,613.8 1358.0,933.5 1508.7,542.2 1659.4,978.1 1810.0,1093.1 1960.7,773.2 2111.4,874.7"/><polyline class="c5" points="454.0,346.3 604.7,867.0 755.3,675.4 906.0,1308.5 1056.7,1148.1 1207.4,300.8 1358.0,1072.4 1508.7,695.2 1659.4,997.5 1810.0,1115.9 1960.7,708.3 2111.4,843.6"/><polyline class="c6" points="454.0,617.5 604.7,814.8 755.3,695.0 906.0,1122.6 1056.7,1322.4 1207.4,449.4 1358.0,398.1 1508.7,1260.4 1659.4,1329.1 1810.0,1245.7 1960.7,933.6 2111.4,727.7"/><polyline class="c0" points="454.0,260.8 604.7,802.9 755.3,842.5 906.0,1057.5 1056.7,1065.3 1207.4,208.2 1358.0,872.4 1508.7,978.1 1659.4,807.8 1810.0,862.2 1960.7,586.5 2111.4,566.6"/><polyline class="c1" points="454.0,476.9 604.7,710.7 755.3,577.0 906.0,1055.4 1056.7,1123.0 1207.4,250.5 1358.0,839.7 1508.7,761.1 1659.4,1208.1 1810.0,841.6 1960.7,662.7 2111.4,1035.0"/><polyline class="c2" points="454.0,581.9 604.7,882.2 755.3,813.9 906.0,1126.7 1056.7,1080.4 1207.4,315.1 1358.0,284.5 1508.7,1077.3 1659.4,1285.0 1810.0,1212.0 1960.7,772.8 2111.4,1021.4"/><polyline class="c3" points="454.0,518.0 604.7,919.6 755.3,841.6 906.0,952.9 1056.7,1295.4 1207.4,400.6 1358.0,526.6 1508.7,1259.5 1659.4,1189.4 1810.0,888.9 1960.7,385.3 2111.4,710.7"/><polyline class="c4" points="454.0,353.2 604.7,808.4 755.3,849.3 906.0,1279.0 1056.7,1203.4 1207.4,336.8 1358.0,407.7 1508.7,1296.4 1659.4,1244.4 1810.0,1196.2 1960.7,649.8 2111.4,729.6"/><polyline class="c5" points="454.0,619.6 604.7,1023.7 755.3,878.0 906.0,1199.6 1056.7,1317.6 1207.4,482.4 1358.0,1084.0 1508.7,1018.0 1659.4,1108.8 1810.0,1053.4 1960.7,747.7 2111.4,648.3"/><polyline class="c6" points="454.0,378.6 604.7,729.1 755.3,704.1 906.0,1091.1 1056.7,1009.4 1207.4,203.9 1358.0,884.3 1508.7,755.2 1659.4,784.7 1810.0,933.5 1960.7,775.1 2111.4,1040.5"/><polyline class="c0" points="454.0,342.5 604.7,859.4 755.3,863.0 906.0,1012.6 1056.7,926.2 1207.4,156.9 1358.0,188.5 1508.7,1000.6 1659.4,995.5 1810.0,1043.6 1960.7,697.8 2111.4,817.5"/><polyline class="c1" points="454.0,330.9 604.7,888.9 755.3,865.4 906.0,1092.4 1056.7,1138.9 1207.4,382.3 1358.0,290.4 1508.7,1315.4 1659.4,1101.2 1810.0,1093.6 1960.7,863.0 2111.4,808.5"/><polyline class="c2" points="454.0,606.5 604.7,888.7 755.3,840.2 906.0,1219.4 1056.7,1307.7 1207.4,409.3 1358.0,1009.6 1508.7,608.2 1659.4,1330.1 1810.0,1125.8 1960.7,682.5 2111.4,1099.9"/><polyline class="c3" points="454.0,289.8 604.7,828.5 755.3,790.6 906.0,1233.2 1056.7,1420.2 1207.4,528.6 1358.0,573.1 1508.7,1251.3 1659.4,1241.5 1810.0,1017.3 1960.7,631.0 2111.4,639.1"/><polyline class="c4" points="454.0,348.4 604.7,888.6 755.3,969.8 906.0,997.1 1056.7,983.5 1207.4,359.3 1358.0,1079.2 1508.7,617.4 1659.4,1031.5 1810.0,827.9 1960.7,516.0 2111.4,920.7"/><polyline class="c5" points="454.0,578.8 604.7,863.3 755.3,742.0 906.0,998.5 1056.7,1136.3 1207.4,261.1 1358.0,457.5 1508.7,1188.9 1659.4,1303.2 1810.0,1166.9 1960.7,790.4 2111.4,961.7"/><polyline class="c6" points="454.0,471.9 604.7,720.4 755.3,712.6 906.0,1111.1 1056.7,1132.8 1207.4,274.0 1358.0,482.0 1508.7,1303.8 1659.4,1211.0 1810.0,984.1 1960.7,667.4 2111.4,729.0"/><polyline class="c0" points="454.0,241.5 604.7,834.0 755.3,945.0 906.0,1173.1 1056.7,1175.4 1207.4,359.8 1358.0,878.4 1508.7,727.0 1659.4,1202.7 1810.0,1201.4 1960.7,689.1 2111.4,895.1"/><polyline class="c1" points="454.0,623.3 604.7,978.4 755.3,949.6 906.0,1132.7 1056.7,1054.6 1207.4,211.5 1358.0,397.6 1508.7,1223.2 1659.4,980.4 1810.0,840.0 1960.7,568.2 2111.4,645.8"/><polyline class="c2" points="454.0,407.4 604.7,617.3 755.3,876.6 906.0,1137.1 1056.7,1088.4 1207.4,279.3 1358.0,961.8 1508.7,747.1 1659.4,1038.3 1810.0,1155.0 1960.7,863.8 2111.4,1013.0"/><polyline class="c3" points="454.0,500.3 604.7,788.1 755.3,696.6 906.0,1245.4 1056.7,1241.9 1207.4,198.6 1358.0,840.1 1508.7,790.8 1659.4,1109.0 1810.0,991.8 1960.7,688.8 2111.4,746.3"/><polyline class="c4" points="454.0,372.0 604.7,693.5 755.3,725.0 906.0,1037.8 1056.7,1059.2 1207.4,381.7 1358.0,597.8 1508.7,1182.9 1659.4,1241.0 1810.0,1196.1 1960.7,703.0 2111.4,625.3"/><polyline class="c5" points="454.0,256.5 604.7,824.7 755.3,858.8 906.0,1316.5 1056.7,973.0 1207.4,235.1 1358.0,255.9 1508.7,1269.1 1659.4,1095.9 1810.0,1187.6 1960.7,846.8 2111.4,645.8"/><polyline class="c6" points="454.0,235.7 604.7,751.1 755.3,943.6 906.0,1119.9 1056.7,1262.0 1207.4,280.0 1358.0,918.4 1508.7,562.5 1659.4,947.6 1810.0,881.0 1960.7,600.7 2111.4,894.0"/><polyline class="c0" points="454.0,666.1 604.7,1040.5 755.3,1111.8 906.0,1200.9 1056.7,1418.0 1207.4,511.5 1358.0,1015.9 1508.7,806.8 1659.4,1306.6 1810.0,919.1 1960.7,706.1 2111.4,565.4"/><polyline class="c1" points="454.0,341.4 604.7,696.4 755.3,838.0 906.0,1253.5 1056.7,1232.9 1207.4,360.1 1358.0,296.2 1508.7,1210.1 1659.4,1225.3 1810.0,1049.9 1960.7,782.3 2111.4,953.1"/><polyline class="c2" points="454.0,477.7 604.7,974.4 755.3,768.2 906.0,1182.8 1056.7,1471.3 1207.4,583.6 1358.0,371.5 1508.7,1221.2 1659.4,1233.4 1810.0,1060.6 1960.7,783.3 2111.4,850.5"/><polyline class="c3" points="454.0,555.8 604.7,669.4 755.3,1041.0 906.0,1339.2 1056.7,1153.1 1207.4,285.8 1358.0,209.0 1508.7,1032.5 1659.4,967.1 1810.0,823.2 1960.7,629.0 2111.4,1111.7"/><polyline class="c4" points="454.0,354.1 604.7,765.3 755.3,897.8 906.0,1050.4 1056.7,1234.4 1207.4,480.3 1358.0,436.2 1508.7,1260.0 1659.4,1306.0 1810.0,1214.4 1960.7,792.9 2111.4,553.2"/><polyline class="c5" points="454.0,641.9 604.7,977.0 755.3,928.0 906.0,1074.3 1056.7,1415.4 1207.4,422.3 1358.0,1001.6 1508.7,647.9 1659.4,1151.9 1810.0,1119.7 1960.7,775.0 2111.4,885.2"/><polyline class="c6" points="454.0,493.2 604.7,745.2 755.3,814.2 906.0,1182.4 1056.7,1115.8 1207.4,332.7 1358.0,968.4 1508.7,864.2 1659.4,1225.7 1810.0,1070.9 1960.7,781.6 2111.4,881.5"/><polyline class="c0" points="454.0,264.5 604.7,778.8 755.3,876.3 906.0,1239.3 1056.7,1386.6 1207.4,405.1 1358.0,1009.1 1508.7,807.7 1659.4,1282.0 1810.0,1083.5 1960.7,837.1 2111.4,574.0"/><polyline class="c1" points="454.0,499.5 604.7,801.5 755.3,1011.1 906.0,1112.9 1056.7,1290.9 1207.4,273.9 1358.0,884.0 1508.7,748.3 1659.4,1008.0 1810.0,969.0 1960.7,708.9 2111.4,634.0"/><polyline class="c2" points="454.0,511.0 604.7,813.0 755.3,878.6 906.0,1277.0 1056.7,1366.2 1207.4,374.3 1358.0,1140.1 1508.7,792.6 1659.4,1279.0 1810.0,1139.9 1960.7,660.3 2111.4,746.9"/><polyline class="c3" points="454.0,228.5 604.7,934.0 755.3,850.9 906.0,1049.6 1056.7,1376.6 1207.4,372.0 1358.0,1033.0 1508.7,605.6 1659.4,979.0 1810.0,842.9 1960.7,760.5 2111.4,845.3"/><polyline class="c4" points="454.0,309.4 604.7,868.7 755.3,858.2 906.0,1343.9 1056.7,1291.5 1207.4,510.0 1358.0,637.3 1508.7,1404.6 1659.4,1132.6 1810.0,1187.3 1960.7,955.2 2111.4,516.4"/><polyline class="c5" points="454.0,493.6 604.7,966.5 755.3,740.8 906.0,1075.5 1056.7,1053.0 1207.4,244.0 1358.0,252.1 1508.7,1095.6 1659.4,1131.2 1810.0,899.3 1960.7,577.0 2111.4,1246.4"/><polyline class="c6" points="454.0,627.0 604.7,871.3 755.3,915.8 906.0,1330.1 1056.7,1203.7 1207.4,199.1 1358.0,211.9 1508.7,1043.5 1659.4,1185.1 1810.0,1199.3 1960.7,832.9 2111.4,903.5"/><polyline class="c0" points="454.0,232.7 604.7,679.2 755.3,722.4 906.0,1107.0 1056.7,1416.3 1207.4,370.8 1358.0,371.7 1508.7,1283.3 1659.4,1182.3 1810.0,1077.2 1960.7,682.5 2111.4,916.9"/><polyline class="c1" points="454.0,416.5 604.7,870.6 755.3,685.4 906.0,1168.6 1056.7,1217.0 1207.4,483.4 1358.0,956.8 1508.7,713.9 1659.4,1078.4 1810.0,1019.0 1960.7,683.9 2111.4,1050.5"/><polyline class="c2" points="454.0,587.8 604.7,896.4 755.3,759.5 906.0,1220.3 1056.7,1254.7 1207.4,345.0 1358.0,234.5 1508.7,1057.9 1659.4,1294.9 1810.0,972.4 1960.7,838.1 2111.4,1041.8"/><polyline class="c3" points="454.0,242.7 604.7,854.1 755.3,978.8 906.0,1221.1 1056.7,1216.7 1207.4,227.7 1358.0,313.5 1508.7,1222.2 1659.4,1207.7 1810.0,1058.1 1960.7,686.4 2111.4,1014.0"/><polyline class="c4" points="454.0,320.8 604.7,631.0 755.3,680.9 906.0,1359.5 1056.7,1406.5 1207.4,405.9 1358.0,467.7 1508.7,1176.5 1659.4,1173.6 1810.0,988.8 1960.7,657.9 2111.4,925.8"/><polyline class="c5" points="454.0,483.0 604.7,961.0 755.3,866.3 906.0,1254.6 1056.7,1263.3 1207.4,510.5 1358.0,937.3 1508.7,656.9 1659.4,975.7 1810.0,980.2 1960.7,727.9 2111.4,725.2"/><polyline class="c6" points="454.0,380.6 604.7,832.8 755.3,527.9 906.0,1019.9 1056.7,1247.7 1207.4,259.4 1358.0,757.2 1508.7,1395.4 1659.4,1260.9 1810.0,1157.6 1960.7,778.9 2111.4,809.3"/><polyline class="c0" points="454.0,566.5 604.7,929.0 755.3,815.0 906.0,1229.6 1056.7,1319.4 1207.4,339.6 1358.0,360.2 1508.7,1265.8 1659.4,1269.1 1810.0,799.8 1960.7,413.8 2111.4,577.0"/><polyline class="c1" points="454.0,471.2 604.7,926.9 755.3,866.1 906.0,1192.4 1056.7,1334.9 1207.4,383.6 1358.0,798.4 1508.7,670.7 1659.4,1144.9 1810.0,953.4 1960.7,746.7 2111.4,888.7"/><polyline class="c2" points="454.0,439.5 604.7,732.4 755.3,732.4 906.0,1318.2 1056.7,1345.1 1207.4,536.0 1358.0,1062.1 1508.7,814.8 1659.4,1101.8 1810.0,804.3 1960.7,634.3 2111.4,809.4"/><polyline class="c3" points="454.0,528.1 604.7,994.7 755.3,837.9 906.0,1133.1 1056.7,1448.5 1207.4,512.3 1358.0,1114.6 1508.7,872.7 1659.4,1248.4 1810.0,1225.2 1960.7,923.1 2111.4,581.9"/><polyline class="c4" points="454.0,447.2 604.7,816.9 755.3,788.3 906.0,1165.0 1056.7,915.6 1207.4,266.0 1358.0,288.9 1508.7,1269.5 1659.4,1094.5 1810.0,819.7 1960.7,620.4 2111.4,1001.0"/><polyline class="c5" points="454.0,280.7 604.7,864.0 755.3,813.4 906.0,1087.6 1056.7,1343.3 1207.4,411.6 1358.0,915.5 1508.7,775.2 1659.4,1219.0 1810.0,1079.4 1960.7,870.2 2111.4,841.0"/><polyline class="c6" points="454.0,218.7 604.7,857.1 755.3,827.1 906.0,1124.7 1056.7,1254.5 1207.4,445.6 1358.0,1065.0 1508.7,808.4 1659.4,1298.5 1810.0,1154.6 1960.7,786.6 2111.4,1126.7"/><polyline class="c0" points="454.0,328.0 604.7,817.6 755.3,811.9 906.0,1354.4 1056.7,1006.7 1207.4,264.5 1358.0,1097.6 1508.7,686.5 1659.4,1053.9 1810.0,1037.8 1960.7,611.0 2111.4,749.3"/><polyline class="c1" points="454.0,522.6 604.7,794.6 755.3,660.5 906.0,1201.5 1056.7,1009.6 1207.4,252.4 1358.0,1015.4 1508.7,621.9 1659.4,1165.9 1810.0,1068.3 1960.7,898.4 2111.4,803.0"/><polyline class="c2" points="454.0,587.7 604.7,1044.9 755.3,1143.0 906.0,1245.5 1056.7,1306.2 1207.4,405.5 1358.0,233.3 1508.7,1205.9 1659.4,1023.3 1810.0,881.7 1960.7,618.9 2111.4,863.9"/><polyline class="c3" points="454.0,554.6 604.7,841.7 755.3,683.2 906.0,1170.5 1056.7,1194.2 1207.4,251.7 1358.0,1091.4 1508.7,980.6 1659.4,1187.6 1810.0,1021.4 1960.7,668.1 2111.4,914.0"/><polyline class="c4" points="454.0,311.2 604.7,797.1 755.3,874.6 906.0,1278.2 1056.7,1447.2 1207.4,644.2 1358.0,633.9 1508.7,1382.4 1659.4,934.2 1810.0,949.3 1960.7,778.4 2111.4,551.1"/><polyline class="c5" points="454.0,478.8 604.7,720.4 755.3,681.3 906.0,1025.8 1056.7,1044.8 1207.4,389.7 1358.0,1073.1 1508.7,814.0 1659.4,1143.0 1810.0,1058.5 1960.7,630.0 2111.4,785.6"/><polyline class="c6" points="454.0,635.8 604.7,873.0 755.3,960.7 906.0,1062.2 1056.7,1192.5 1207.4,259.0 1358.0,270.2 1508.7,1194.9 1659.4,1226.8 1810.0,952.9 1960.7,568.0 2111.4,1008.7"/><polyline class="c0" points="454.0,294.1 604.7,945.6 755.3,859.7 906.0,1357.0 1056.7,1131.4 1207.4,267.9 1358.0,990.1 1508.7,849.4 1659.4,1391.5 1810.0,1228.8 1960.7,763.7 2111.4,741.4"/><polyline class="c1" points="454.0,309.5 604.7,741.2 755.3,975.3 906.0,1342.0 1056.7,1423.9 1207.4,308.8 1358.0,448.9 1508.7,1104.5 1659.4,972.0 1810.0,1086.2 1960.7,757.0 2111.4,506.5"/><polyline class="c2" points="454.0,310.3 604.7,737.9 755.3,810.2 906.0,1242.1 1056.7,1189.3 1207.4,282.7 1358.0,281.6 1508.7,1084.0 1659.4,1235.9 1810.0,1178.6 1960.7,712.8 2111.4,767.3"/><polyline class="c3" points="454.0,551.7 604.7,637.3 755.3,760.5 906.0,1185.1 1056.7,1152.6 1207.4,266.3 1358.0,535.3 1508.7,1351.2 1659.4,998.4 1810.0,1039.2 1960.7,707.5 2111.4,589.8"/><polyline class="c4" points="454.0,427.1 604.7,917.7 755.3,942.3 906.0,1028.8 1056.7,1050.1 1207.4,253.2 1358.0,989.6 1508.7,590.0 1659.4,887.5 1810.0,819.0 1960.7,680.4 2111.4,1020.9"/><polyline class="c5" points="454.0,198.8 604.7,787.9 755.3,776.4 906.0,1352.6 1056.7,1416.5 1207.4,240.6 1358.0,869.3 1508.7,597.9 1659.4,1073.2 1810.0,1097.9 1960.7,770.2 2111.4,608.5"/><polyline class="c6" points="454.0,322.1 604.7,713.0 755.3,859.7 906.0,1147.2 1056.7,1352.6 1207.4,539.3 1358.0,405.8 1508.7,1342.7 1659.4,1001.6 1810.0,896.0 1960.7,773.4 2111.4,897.4"/><polyline class="c0" points="454.0,286.4 604.7,713.1 755.3,766.9 906.0,977.6 1056.7,1111.2 1207.4,329.6 1358.0,503.8 1508.7,1371.4 1659.4,1153.7 1810.0,935.7 1960.7,676.0 2111.4,762.1"/><polyline class="c1" points="454.0,229.0 604.7,724.3 755.3,668.3 906.0,1164.2 1056.7,1351.0 1207.4,575.5 1358.0,636.3 1508.7,1331.7 1659.4,1311.5 1810.0,1012.0 1960.7,740.9 2111.4,1102.0"/><polyline class="c2" points="454.0,498.7 604.7,659.8 755.3,680.0 906.0,1272.5 1056.7,1250.5 1207.4,539.9 1358.0,678.7 1508.7,1377.7 1659.4,1145.1 1810.0,1089.6 1960.7,642.6 2111.4,1116.9"/><polyline class="c3" points="454.0,386.9 604.7,977.6 755.3,826.2 906.0,1205.2 1056.7,1034.9 1207.4,464.1 1358.0,993.9 1508.7,760.3 1659.4,1010.3 1810.0,730.7 1960.7,577.3 2111.4,918.9"/><polyline class="c4" points="454.0,438.5 604.7,708.7 755.3,843.1 906.0,1260.5 1056.7,1272.6 1207.4,381.1 1358.0,251.7 1508.7,1180.6 1659.4,1218.3 1810.0,1010.7 1960.7,662.2 2111.4,1026.6"/><polyline class="c5" points="454.0,598.4 604.7,780.4 755.3,902.2 906.0,1258.6 1056.7,1331.1 1207.4,524.8 1358.0,471.9 1508.7,1204.1 1659.4,1112.0 1810.0,787.4 1960.7,587.4 2111.4,1115.9"/><polyline class="c6" points="454.0,519.4 604.7,737.4 755.3,817.8 906.0,1125.4 1056.7,1414.5 1207.4,543.9 1358.0,1080.7 1508.7,810.5 1659.4,1215.4 1810.0,882.4 1960.7,765.8 2111.4,1030.9"/><polyline class="c0" points="454.0,338.1 604.7,501.2 755.3,499.4 906.0,1254.4 1056.7,1300.4 1207.4,285.7 1358.0,380.1 1508.7,1107.2 1659.4,1356.9 1810.0,980.0 1960.7,703.5 2111.4,625.1"/><polyline class="c1" points="454.0,351.9 604.7,686.5 755.3,756.0 906.0,1210.1 1056.7,1356.0 1207.4,511.7 1358.0,356.4 1508.7,1293.6 1659.4,1086.1 1810.0,988.4 1960.7,717.6 2111.4,945.5"/><polyline class="c2" points="454.0,632.0 604.7,820.3 755.3,872.7 906.0,1021.3 1056.7,1290.7 1207.4,491.4 1358.0,1068.9 1508.7,806.6 1659.4,1322.4 1810.0,1276.8 1960.7,925.9 2111.4,851.2"/><polyline class="c3" points="454.0,319.4 604.7,912.2 755.3,762.3 906.0,1285.4 1056.7,1379.3 1207.4,491.2 1358.0,582.9 1508.7,1272.5 1659.4,986.0 1810.0,1040.9 1960.7,685.8 2111.4,825.8"/><polyline class="c4" points="454.0,511.2 604.7,701.0 755.3,703.2 906.0,1088.9 1056.7,914.8 1207.4,272.3 1358.0,357.3 1508.7,1156.8 1659.4,1002.0 1810.0,921.3 1960.7,606.1 2111.4,609.7"/><polyline class="c5" points="454.0,462.9 604.7,816.8 755.3,1066.2 906.0,1120.1 1056.7,1107.8 1207.4,180.4 1358.0,442.8 1508.7,1235.2 1659.4,1098.4 1810.0,914.7 1960.7,769.8 2111.4,1168.1"/><polyline class="c6" points="454.0,383.7 604.7,774.9 755.3,880.5 906.0,1272.2 1056.7,1283.4 1207.4,502.2 1358.0,590.6 1508.7,1311.5 1659.4,1111.5 1810.0,1132.0 1960.7,906.6 2111.4,934.0"/><polyline class="c0" points="454.0,474.0 604.7,749.0 755.3,724.6 906.0,1015.6 1056.7,1211.6 1207.4,336.5 1358.0,284.0 1508.7,1202.1 1659.4,1271.0 1810.0,983.5 1960.7,570.5 2111.4,1028.8"/><polyline class="c1" points="454.0,356.8 604.7,773.4 755.3,847.4 906.0,1269.2 1056.7,1424.0 1207.4,346.5 1358.0,386.4 1508.7,1183.1 1659.4,1341.2 1810.0,1064.4 1960.7,649.0 2111.4,779.7"/><polyline class="c2" points="454.0,391.8 604.7,789.5 755.3,920.8 906.0,1251.8 1056.7,1175.2 1207.4,298.6 1358.0,875.5 1508.7,728.8 1659.4,1095.4 1810.0,1105.2 1960.7,766.8 2111.4,917.8"/><polyline class="c3" points="454.0,313.1 604.7,895.0 755.3,959.7 906.0,1161.5 1056.7,1397.5 1207.4,551.8 1358.0,1201.5 1508.7,906.5 1659.4,1212.3 1810.0,1123.0 1960.7,665.8 2111.4,602.5"/><polyline class="c4" points="454.0,477.4 604.7,749.1 755.3,715.4 906.0,1139.6 1056.7,1025.5 1207.4,239.8 1358.0,495.1 1508.7,1306.9 1659.4,1174.7 1810.0,1183.5 1960.7,901.0 2111.4,734.7"/><polyline class="c5" points="454.0,569.6 604.7,799.8 755.3,934.1 906.0,1317.0 1056.7,1143.0 1207.4,308.4 1358.0,1130.3 1508.7,972.6 1659.4,1314.6 1810.0,1218.3 1960.7,878.6 2111.4,1023.0"/><polyline class="c6" points="454.0,208.6 604.7,934.4 755.3,685.1 906.0,1264.8 1056.7,1429.1 1207.4,374.6 1358.0,445.1 1508.7,1288.5 1659.4,1038.2 1810.0,769.7 1960.7,566.6 2111.4,1064.5"/><polyline class="c0" points="454.0,452.9 604.7,718.5 755.3,742.9 906.0,1130.9 1056.7,1029.0 1207.4,542.1 1358.0,1019.8 1508.7,744.6 1659.4,1168.2 1810.0,1004.3 1960.7,621.5 2111.4,405.8"/><polyline class="c1" points="454.0,382.8 604.7,958.0 755.3,883.7 906.0,1346.5 1056.7,1329.3 1207.4,353.8 1358.0,454.5 1508.7,1238.8 1659.4,1258.6 1810.0,1160.5 1960.7,765.8 2111.4,800.3"/><polyline class="c2" points="454.0,411.4 604.7,709.1 755.3,643.5 906.0,1065.6 1056.7,1020.2 1207.4,242.3 1358.0,1037.8 1508.7,674.0 1659.4,1017.1 1810.0,1076.9 1960.7,621.5 2111.4,1217.9"/><polyline class="c3" points="454.0,246.1 604.7,745.4 755.3,873.4 906.0,1035.8 1056.7,1074.3 1207.4,271.5 1358.0,889.2 1508.7,700.8 1659.4,1014.6 1810.0,1179.3 1960.7,742.3 2111.4,962.0"/><polyline class="c4" points="454.0,539.2 604.7,1008.1 755.3,837.2 906.0,1318.4 1056.7,1489.6 1207.4,577.0 1358.0,1003.1 1508.7,590.9 1659.4,1200.9 1810.0,1291.9 1960.7,933.5 2111.4,997.5"/><polyline class="c5" points="454.0,628.3 604.7,817.6 755.3,797.1 906.0,1012.2 1056.7,978.3 1207.4,244.1 1358.0,562.0 1508.7,1275.0 1659.4,1258.5 1810.0,1101.0 1960.7,649.0 2111.4,1125.0"/><polyline class="c6" points="454.0,566.7 604.7,833.0 755.3,773.2 906.0,1123.3 1056.7,1134.8 1207.4,421.2 1358.0,513.1 1508.7,1302.5 1659.4,1160.2 1810.0,1059.2 1960.7,815.0 2111.4,848.0"/><polyline class="c0" points="454.0,581.8 604.7,971.1 755.3,819.6 906.0,953.5 1056.7,1077.9 1207.4,432.0 1358.0,254.8 1508.7,933.5 1659.4,697.3 1810.0,755.2 1960.7,697.2 2111.4,646.1"/><polyline class="c1" points="454.0,282.9 604.7,828.5 755.3,790.3 906.0,1307.3 1056.7,1078.4 1207.4,273.2 1358.0,1045.5 1508.7,717.8 1659.4,1068.8 1810.0,865.4 1960.7,576.7 2111.4,1130.5"/><polyline class="c2" points="454.0,442.7 604.7,804.2 755.3,972.2 906.0,1050.6 1056.7,1101.6 1207.4,526.5 1358.0,626.4 1508.7,1275.7 1659.4,1362.7 1810.0,965.9 1960.7,562.3 2111.4,1081.8"/><polyline class="c3" points="454.0,377.3 604.7,764.4 755.3,693.8 906.0,1317.4 1056.7,1476.6 1207.4,362.3 1358.0,443.1 1508.7,1381.8 1659.4,1086.8 1810.0,870.9 1960.7,615.4 2111.4,884.9"/><polyline class="c4" points="454.0,622.5 604.7,806.8 755.3,769.7 906.0,1329.9 1056.7,1431.0 1207.4,566.4 1358.0,1139.4 1508.7,849.4 1659.4,1088.0 1810.0,1003.3 1960.7,616.3 2111.4,857.1"/><polyline class="c5" points="454.0,468.7 604.7,736.5 755.3,888.9 906.0,1352.7 1056.7,1161.7 1207.4,508.5 1358.0,1148.0 1508.7,696.2 1659.4,1178.5 1810.0,1059.7 1960.7,715.2 2111.4,741.8"/><polyline class="c6" points="454.0,485.4 604.7,959.4 755.3,767.1 906.0,1191.6 1056.7,1335.1 1207.4,345.3 1358.0,949.0 1508.7,700.1 1659.4,1341.0 1810.0,947.8 1960.7,692.9 2111.4,1079.9"/><polyline class="c0" points="454.0,266.1 604.7,674.1 755.3,727.7 906.0,1110.1 1056.7,1447.3 1207.4,647.2 1358.0,978.1 1508.7,497.6 1659.4,1022.7 1810.0,1208.3 1960.7,669.2 2111.4,976.2"/><polyline class="c1" points="454.0,608.7 604.7,1042.8 755.3,928.0 906.0,1126.0 1056.7,1334.6 1207.4,690.2 1358.0,888.9 1508.7,1120.1 1659.4,995.2 1810.0,1108.6 1960.7,719.5 2111.4,998.9"/><polyline class="c2" points="454.0,459.0 604.7,722.0 755.3,878.5 906.0,1111.8 1056.7,1079.4 1207.4,215.7 1358.0,423.6 1508.7,1195.7 1659.4,1054.2 1810.0,849.2 1960.7,850.8 2111.4,1097.6"/><polyline class="c3" points="454.0,519.0 604.7,989.1 755.3,957.1 906.0,1223.6 1056.7,1082.0 1207.4,228.4 1358.0,985.8 1508.7,754.9 1659.4,1342.0 1810.0,1222.8 1960.7,850.4 2111.4,888.9"/><polyline class="c4" points="454.0,656.1 604.7,987.4 755.3,895.8 906.0,1085.4 1056.7,1140.4 1207.4,541.2 1358.0,617.2 1508.7,1327.8 1659.4,1192.0 1810.0,944.7 1960.7,635.9 2111.4,906.6"/></g><text x="303.30" y="1614.80" font-size="43.00" text-anchor="middle">0</text><text x="604.65" y="1614.80" font-size="43.00" text-anchor="middle">2</text><text x="906.00" y="1614.80" font-size="43.00" text-anchor="middle">4</text><text x="1207.35" y="1614.80" font-size="43.00" text-anchor="middle">6</text><text x="1508.70" y="1614.80" font-size="43.00" text-anchor="middle">8</text><text x="1810.05" y="1614.80" font-size="43.00" text-anchor="middle">10</text><text x="2111.40" y="1614.80" font-size="43.00" text-anchor="middle">12</text><text x="285.20" y="1573.00" font-size="43.00" text-anchor="end">-8</text><text x="285.20" y="1394.72" font-size="43.00" text-anchor="end">-6</text><text x="285.20" y="1216.44" font-size="43.00" text-anchor="end">-4</text><text x="285.20" y="1038.16" font-size="43.00" text-anchor="end">-2</text><text x="285.20" y="859.88" font-size="43.00" text-anchor="end">0</text><text x="285.20" y="681.59" font-size="43.00" text-anchor="end">2</text><text x="285.20" y="503.31" font-size="43.00" text-anchor="end">4</text><text x="285.20" y="325.03" font-size="43.00" text-anchor="end">6</text><text x="285.20" y="146.75" font-size="43.00" text-anchor="end">8</text><text x="1207.35" y="1671.30" font-size="47" text-anchor="middle">BPM number</text><text transform="translate(223.9 844.38) rotate(-90)" font-size="47" text-anchor="middle">X-orbit [mm]</text></svg></body></html>
